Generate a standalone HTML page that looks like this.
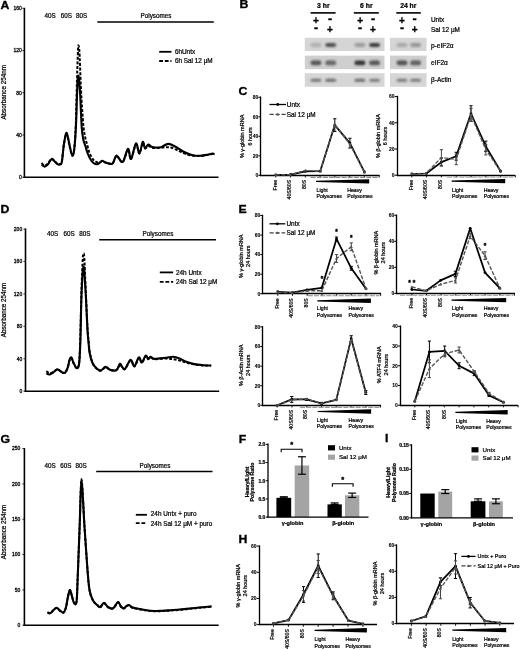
<!DOCTYPE html>
<html><head><meta charset="utf-8"><title>Figure</title>
<style>
html,body{margin:0;padding:0;background:#fff;}
body{width:520px;height:650px;overflow:hidden;}
svg{display:block;font-family:"Liberation Sans", Arial, sans-serif;}
</style></head>
<body>
<svg width="520" height="650" viewBox="0 0 520 650">
<defs><filter id="blur" x="-50%" y="-50%" width="200%" height="200%"><feGaussianBlur stdDeviation="1.0"/></filter></defs>
<rect width="520" height="650" fill="#fff"/>
<text transform="translate(0.60 8.60) scale(1.18 1)" font-size="10.4" font-weight="bold" fill="#000" stroke="#000" stroke-width="0.3">A</text>
<line x1="24.40" y1="7.80" x2="24.40" y2="177.90" stroke="#000" stroke-width="1.6" stroke-linecap="butt"/>
<line x1="23.60" y1="177.30" x2="218.50" y2="177.30" stroke="#000" stroke-width="1.5" stroke-linecap="butt"/>
<line x1="22.40" y1="177.30" x2="24.40" y2="177.30" stroke="#000" stroke-width="0.8" stroke-linecap="butt"/>
<text x="21.80" y="179.10" font-size="5" text-anchor="end" fill="#000" stroke="#000" stroke-width="0.28">0</text>
<line x1="22.40" y1="135.05" x2="24.40" y2="135.05" stroke="#000" stroke-width="0.8" stroke-linecap="butt"/>
<text x="21.80" y="136.85" font-size="5" text-anchor="end" fill="#000" stroke="#000" stroke-width="0.28">40</text>
<line x1="22.40" y1="92.80" x2="24.40" y2="92.80" stroke="#000" stroke-width="0.8" stroke-linecap="butt"/>
<text x="21.80" y="94.60" font-size="5" text-anchor="end" fill="#000" stroke="#000" stroke-width="0.28">80</text>
<line x1="22.40" y1="50.55" x2="24.40" y2="50.55" stroke="#000" stroke-width="0.8" stroke-linecap="butt"/>
<text x="21.80" y="52.35" font-size="5" text-anchor="end" fill="#000" stroke="#000" stroke-width="0.28">120</text>
<line x1="22.40" y1="8.30" x2="24.40" y2="8.30" stroke="#000" stroke-width="0.8" stroke-linecap="butt"/>
<text x="21.80" y="10.10" font-size="5" text-anchor="end" fill="#000" stroke="#000" stroke-width="0.28">160</text>
<text x="5.60" y="92.30" font-size="6.3" text-anchor="middle" transform="rotate(-90 5.60 92.30)" fill="#000" stroke="#000" stroke-width="0.22">Absorbance 254nm</text>
<text x="44.60" y="18.20" font-size="6.3" text-anchor="start" fill="#000" stroke="#000" stroke-width="0.22">40S</text>
<text x="60.80" y="18.20" font-size="6.3" text-anchor="start" fill="#000" stroke="#000" stroke-width="0.22">60S</text>
<text x="76.00" y="18.20" font-size="6.3" text-anchor="start" fill="#000" stroke="#000" stroke-width="0.22">80S</text>
<text x="140.60" y="18.20" font-size="6.3" text-anchor="start" fill="#000" stroke="#000" stroke-width="0.22">Polysomes</text>
<line x1="97.30" y1="22.00" x2="213.80" y2="22.00" stroke="#000" stroke-width="1.5" stroke-linecap="butt"/>
<line x1="159.20" y1="51.80" x2="171.50" y2="51.80" stroke="#000" stroke-width="1.8" stroke-linecap="butt"/>
<line x1="159.20" y1="61.00" x2="171.50" y2="61.00" stroke="#000" stroke-width="1.8" stroke-dasharray="3.8,1.8" stroke-linecap="butt"/>
<text x="174.90" y="53.90" font-size="6.4" text-anchor="start" fill="#000" stroke="#000" stroke-width="0.22">6hUntx</text>
<text x="174.90" y="63.20" font-size="6.4" text-anchor="start" fill="#000" stroke="#000" stroke-width="0.22">6h Sal 12 μM</text>
<path d="M41.60,164.60 C42.08,164.93 43.48,166.60 44.50,166.60 C45.52,166.60 46.57,165.82 47.70,164.60 C48.83,163.38 50.22,159.90 51.30,159.30 C52.38,158.70 53.25,160.25 54.20,161.00 C55.15,161.75 56.07,163.20 57.00,163.80 C57.93,164.40 59.00,164.87 59.80,164.60 C60.60,164.33 61.13,165.43 61.80,162.20 C62.47,158.97 63.08,150.05 63.80,145.20 C64.52,140.35 65.42,134.45 66.10,133.10 C66.78,131.75 67.27,134.82 67.90,137.10 C68.53,139.38 69.17,143.70 69.90,146.80 C70.63,149.90 71.57,155.30 72.30,155.70 C73.03,156.10 73.68,154.32 74.30,149.20 C74.92,144.08 75.55,134.03 76.00,125.00 C76.45,115.97 76.67,103.00 77.00,95.00 C77.33,87.00 77.67,79.67 78.00,77.00 C78.33,74.33 78.63,76.00 79.00,79.00 C79.37,82.00 79.75,87.00 80.20,95.00 C80.65,103.00 81.18,119.58 81.70,127.00 C82.22,134.42 82.68,136.33 83.30,139.50 C83.92,142.67 84.70,143.75 85.40,146.00 C86.10,148.25 86.68,150.83 87.50,153.00 C88.32,155.17 89.30,157.33 90.30,159.00 C91.30,160.67 92.38,162.12 93.50,163.00 C94.62,163.88 95.92,164.38 97.00,164.30 C98.08,164.22 99.10,163.10 100.00,162.50 C100.90,161.90 101.43,160.67 102.40,160.70 C103.37,160.73 104.12,162.22 105.80,162.70 C107.48,163.18 110.72,164.78 112.50,163.60 C114.28,162.42 114.82,155.87 116.50,155.60 C118.18,155.33 120.68,163.13 122.60,162.00 C124.52,160.87 126.60,149.30 128.00,148.80 C129.40,148.30 129.67,159.88 131.00,159.00 C132.33,158.12 134.60,144.42 136.00,143.50 C137.40,142.58 138.27,153.78 139.40,153.50 C140.53,153.22 141.87,142.68 142.80,141.80 C143.73,140.92 144.10,147.75 145.00,148.20 C145.90,148.65 147.12,144.73 148.20,144.50 C149.28,144.27 150.27,146.30 151.50,146.80 C152.73,147.30 154.02,147.43 155.60,147.50 C157.18,147.57 158.90,147.80 161.00,147.20 C163.10,146.60 165.77,143.97 168.20,143.90 C170.63,143.83 173.03,145.48 175.60,146.80 C178.17,148.12 180.92,150.45 183.60,151.80 C186.28,153.15 189.00,154.23 191.70,154.90 C194.40,155.57 197.33,155.80 199.80,155.80 C202.27,155.80 204.37,155.27 206.50,154.90 C208.63,154.53 211.25,153.72 212.60,153.60 C213.95,153.48 214.27,154.10 214.60,154.20" fill="none" stroke="#000" stroke-width="2.1" stroke-linejoin="round"/>
<path d="M41.60,163.00 C42.08,163.42 43.48,165.37 44.50,165.50 C45.52,165.63 46.57,164.92 47.70,163.80 C48.83,162.68 50.22,159.35 51.30,158.80 C52.38,158.25 53.25,159.75 54.20,160.50 C55.15,161.25 56.07,162.72 57.00,163.30 C57.93,163.88 59.00,164.30 59.80,164.00 C60.60,163.70 61.13,164.67 61.80,161.50 C62.47,158.33 63.08,149.58 63.80,145.00 C64.52,140.42 65.42,135.17 66.10,134.00 C66.78,132.83 67.27,135.75 67.90,138.00 C68.53,140.25 69.17,144.58 69.90,147.50 C70.63,150.42 71.57,155.42 72.30,155.50 C73.03,155.58 73.72,153.08 74.30,148.00 C74.88,142.92 75.35,136.33 75.80,125.00 C76.25,113.67 76.63,92.50 77.00,80.00 C77.37,67.50 77.73,55.75 78.00,50.00 C78.27,44.25 78.38,45.50 78.60,45.50 C78.82,45.50 79.07,46.75 79.30,50.00 C79.53,53.25 79.72,58.33 80.00,65.00 C80.28,71.67 80.63,82.50 81.00,90.00 C81.37,97.50 81.78,103.83 82.20,110.00 C82.62,116.17 83.00,122.42 83.50,127.00 C84.00,131.58 84.58,134.50 85.20,137.50 C85.82,140.50 86.48,142.42 87.20,145.00 C87.92,147.58 88.57,150.67 89.50,153.00 C90.43,155.33 91.80,157.58 92.80,159.00 C93.80,160.42 94.63,160.92 95.50,161.50 C96.37,162.08 97.17,162.42 98.00,162.50 C98.83,162.58 99.77,162.25 100.50,162.00 C101.23,161.75 101.52,160.92 102.40,161.00 C103.28,161.08 104.12,162.12 105.80,162.50 C107.48,162.88 110.72,164.38 112.50,163.30 C114.28,162.22 114.82,156.22 116.50,156.00 C118.18,155.78 120.68,163.08 122.60,162.00 C124.52,160.92 126.60,150.00 128.00,149.50 C129.40,149.00 129.67,159.83 131.00,159.00 C132.33,158.17 134.60,145.42 136.00,144.50 C137.40,143.58 138.27,153.75 139.40,153.50 C140.53,153.25 141.87,143.83 142.80,143.00 C143.73,142.17 144.10,148.00 145.00,148.50 C145.90,149.00 147.12,146.17 148.20,146.00 C149.28,145.83 150.27,147.17 151.50,147.50 C152.73,147.83 153.60,148.00 155.60,148.00 C157.60,148.00 161.07,147.58 163.50,147.50 C165.93,147.42 167.95,147.08 170.20,147.50 C172.45,147.92 174.77,149.07 177.00,150.00 C179.23,150.93 181.15,152.18 183.60,153.10 C186.05,154.02 189.00,155.02 191.70,155.50 C194.40,155.98 197.33,156.08 199.80,156.00 C202.27,155.92 204.37,155.33 206.50,155.00 C208.63,154.67 211.25,154.13 212.60,154.00 C213.95,153.87 214.27,154.17 214.60,154.20" fill="none" stroke="#000" stroke-width="2.0" stroke-linejoin="round" stroke-dasharray="3,1.6"/>
<text transform="translate(0.60 212.60) scale(1.18 1)" font-size="10.4" font-weight="bold" fill="#000" stroke="#000" stroke-width="0.3">D</text>
<line x1="25.50" y1="228.50" x2="25.50" y2="391.80" stroke="#000" stroke-width="1.6" stroke-linecap="butt"/>
<line x1="24.70" y1="391.20" x2="219.20" y2="391.20" stroke="#000" stroke-width="1.5" stroke-linecap="butt"/>
<line x1="23.50" y1="391.20" x2="25.50" y2="391.20" stroke="#000" stroke-width="0.8" stroke-linecap="butt"/>
<text x="22.20" y="393.00" font-size="5" text-anchor="end" fill="#000" stroke="#000" stroke-width="0.28">0</text>
<line x1="23.50" y1="358.76" x2="25.50" y2="358.76" stroke="#000" stroke-width="0.8" stroke-linecap="butt"/>
<text x="22.20" y="360.56" font-size="5" text-anchor="end" fill="#000" stroke="#000" stroke-width="0.28">40</text>
<line x1="23.50" y1="326.32" x2="25.50" y2="326.32" stroke="#000" stroke-width="0.8" stroke-linecap="butt"/>
<text x="22.20" y="328.12" font-size="5" text-anchor="end" fill="#000" stroke="#000" stroke-width="0.28">80</text>
<line x1="23.50" y1="293.88" x2="25.50" y2="293.88" stroke="#000" stroke-width="0.8" stroke-linecap="butt"/>
<text x="22.20" y="295.68" font-size="5" text-anchor="end" fill="#000" stroke="#000" stroke-width="0.28">120</text>
<line x1="23.50" y1="261.44" x2="25.50" y2="261.44" stroke="#000" stroke-width="0.8" stroke-linecap="butt"/>
<text x="22.20" y="263.24" font-size="5" text-anchor="end" fill="#000" stroke="#000" stroke-width="0.28">160</text>
<line x1="23.50" y1="229.00" x2="25.50" y2="229.00" stroke="#000" stroke-width="0.8" stroke-linecap="butt"/>
<text x="22.20" y="230.80" font-size="5" text-anchor="end" fill="#000" stroke="#000" stroke-width="0.28">200</text>
<text x="5.60" y="310.00" font-size="6.3" text-anchor="middle" transform="rotate(-90 5.60 310.00)" fill="#000" stroke="#000" stroke-width="0.22">Absorbance 254nm</text>
<text x="47.00" y="236.00" font-size="6.3" text-anchor="start" fill="#000" stroke="#000" stroke-width="0.22">40S</text>
<text x="63.40" y="236.00" font-size="6.3" text-anchor="start" fill="#000" stroke="#000" stroke-width="0.22">60S</text>
<text x="79.20" y="236.00" font-size="6.3" text-anchor="start" fill="#000" stroke="#000" stroke-width="0.22">80S</text>
<text x="142.50" y="236.00" font-size="6.3" text-anchor="start" fill="#000" stroke="#000" stroke-width="0.22">Polysomes</text>
<line x1="99.20" y1="239.70" x2="216.00" y2="239.70" stroke="#000" stroke-width="1.5" stroke-linecap="butt"/>
<line x1="159.80" y1="272.40" x2="173.10" y2="272.40" stroke="#000" stroke-width="1.8" stroke-linecap="butt"/>
<line x1="159.80" y1="281.80" x2="173.10" y2="281.80" stroke="#000" stroke-width="1.8" stroke-dasharray="3.8,1.8" stroke-linecap="butt"/>
<text x="176.00" y="274.60" font-size="6.4" text-anchor="start" fill="#000" stroke="#000" stroke-width="0.22">24h Untx</text>
<text x="176.00" y="284.20" font-size="6.4" text-anchor="start" fill="#000" stroke="#000" stroke-width="0.22">24h Sal 12 μM</text>
<path d="M46.30,373.40 C46.78,373.58 48.13,374.60 49.20,374.50 C50.27,374.40 51.35,373.65 52.70,372.80 C54.05,371.95 55.87,369.58 57.30,369.40 C58.73,369.22 60.05,371.12 61.30,371.70 C62.55,372.28 63.73,373.57 64.80,372.90 C65.87,372.23 66.92,369.85 67.70,367.70 C68.48,365.55 68.88,361.73 69.50,360.00 C70.12,358.27 70.75,356.88 71.40,357.30 C72.05,357.72 72.48,360.67 73.40,362.50 C74.32,364.33 75.93,368.22 76.90,368.30 C77.87,368.38 78.62,367.72 79.20,363.00 C79.78,358.28 80.02,351.33 80.40,340.00 C80.78,328.67 80.98,307.25 81.50,295.00 C82.02,282.75 82.83,267.33 83.50,266.50 C84.17,265.67 84.83,279.42 85.50,290.00 C86.17,300.58 87.00,321.33 87.50,330.00 C88.00,338.67 88.15,338.22 88.50,342.00 C88.85,345.78 88.93,349.20 89.60,352.70 C90.27,356.20 91.35,360.40 92.50,363.00 C93.65,365.60 95.15,367.03 96.50,368.30 C97.85,369.57 99.08,370.83 100.60,370.60 C102.12,370.37 104.13,367.10 105.60,366.90 C107.07,366.70 107.83,368.78 109.40,369.40 C110.97,370.02 113.65,370.70 115.00,370.60 C116.35,370.50 116.67,369.93 117.50,368.80 C118.33,367.67 119.27,364.18 120.00,363.80 C120.73,363.42 121.07,365.67 121.90,366.50 C122.73,367.33 123.55,369.92 125.00,368.80 C126.45,367.68 129.03,360.22 130.60,359.80 C132.17,359.38 133.03,366.68 134.40,366.30 C135.77,365.92 137.55,358.13 138.80,357.50 C140.05,356.87 140.77,362.82 141.90,362.50 C143.03,362.18 144.57,356.22 145.60,355.60 C146.63,354.98 147.27,358.58 148.10,358.80 C148.93,359.02 149.65,356.90 150.60,356.90 C151.55,356.90 152.55,358.53 153.80,358.80 C155.05,359.07 156.03,358.67 158.10,358.50 C160.17,358.33 163.73,358.08 166.20,357.80 C168.67,357.52 170.67,356.68 172.90,356.80 C175.13,356.92 177.37,357.67 179.60,358.50 C181.83,359.33 183.83,360.87 186.30,361.80 C188.77,362.73 191.48,363.53 194.40,364.10 C197.32,364.67 201.00,364.95 203.80,365.20 C206.60,365.45 209.97,365.53 211.20,365.60" fill="none" stroke="#000" stroke-width="2.1" stroke-linejoin="round"/>
<path d="M46.30,371.10 C46.78,371.42 48.13,372.80 49.20,373.00 C50.27,373.20 51.35,372.90 52.70,372.30 C54.05,371.70 55.87,369.50 57.30,369.40 C58.73,369.30 60.05,371.12 61.30,371.70 C62.55,372.28 63.73,373.57 64.80,372.90 C65.87,372.23 66.92,369.77 67.70,367.70 C68.48,365.63 68.88,362.12 69.50,360.50 C70.12,358.88 70.75,357.58 71.40,358.00 C72.05,358.42 72.48,361.28 73.40,363.00 C74.32,364.72 75.93,368.47 76.90,368.30 C77.87,368.13 78.62,367.55 79.20,362.00 C79.78,356.45 80.02,347.00 80.40,335.00 C80.78,323.00 81.10,302.83 81.50,290.00 C81.90,277.17 82.47,264.08 82.80,258.00 C83.13,251.92 83.25,253.50 83.50,253.50 C83.75,253.50 83.97,252.75 84.30,258.00 C84.63,263.25 84.97,273.33 85.50,285.00 C86.03,296.67 86.97,318.50 87.50,328.00 C88.03,337.50 88.30,337.83 88.70,342.00 C89.10,346.17 89.22,349.42 89.90,353.00 C90.58,356.58 91.70,360.92 92.80,363.50 C93.90,366.08 95.20,367.32 96.50,368.50 C97.80,369.68 99.08,370.82 100.60,370.60 C102.12,370.38 104.13,367.37 105.60,367.20 C107.07,367.03 107.83,369.03 109.40,369.60 C110.97,370.17 113.65,370.70 115.00,370.60 C116.35,370.50 116.67,370.07 117.50,369.00 C118.33,367.93 119.27,364.57 120.00,364.20 C120.73,363.83 121.07,366.00 121.90,366.80 C122.73,367.60 123.55,370.08 125.00,369.00 C126.45,367.92 129.03,360.72 130.60,360.30 C132.17,359.88 133.03,366.88 134.40,366.50 C135.77,366.12 137.55,358.62 138.80,358.00 C140.05,357.38 140.77,363.08 141.90,362.80 C143.03,362.52 144.57,356.90 145.60,356.30 C146.63,355.70 147.27,359.00 148.10,359.20 C148.93,359.40 149.65,357.50 150.60,357.50 C151.55,357.50 152.55,358.95 153.80,359.20 C155.05,359.45 156.03,359.12 158.10,359.00 C160.17,358.88 163.73,358.48 166.20,358.50 C168.67,358.52 170.67,358.77 172.90,359.10 C175.13,359.43 177.37,359.93 179.60,360.50 C181.83,361.07 183.83,361.83 186.30,362.50 C188.77,363.17 191.48,364.02 194.40,364.50 C197.32,364.98 201.00,365.22 203.80,365.40 C206.60,365.58 209.97,365.57 211.20,365.60" fill="none" stroke="#000" stroke-width="2.0" stroke-linejoin="round" stroke-dasharray="3,1.6"/>
<text transform="translate(0.60 442.60) scale(1.18 1)" font-size="10.4" font-weight="bold" fill="#000" stroke="#000" stroke-width="0.3">G</text>
<line x1="24.40" y1="448.10" x2="24.40" y2="625.80" stroke="#000" stroke-width="1.6" stroke-linecap="butt"/>
<line x1="23.60" y1="625.20" x2="218.70" y2="625.20" stroke="#000" stroke-width="1.5" stroke-linecap="butt"/>
<line x1="22.40" y1="625.20" x2="24.40" y2="625.20" stroke="#000" stroke-width="0.8" stroke-linecap="butt"/>
<text x="20.40" y="627.00" font-size="5" text-anchor="end" fill="#000" stroke="#000" stroke-width="0.28">0</text>
<line x1="22.40" y1="589.88" x2="24.40" y2="589.88" stroke="#000" stroke-width="0.8" stroke-linecap="butt"/>
<text x="20.40" y="591.68" font-size="5" text-anchor="end" fill="#000" stroke="#000" stroke-width="0.28">50</text>
<line x1="22.40" y1="554.56" x2="24.40" y2="554.56" stroke="#000" stroke-width="0.8" stroke-linecap="butt"/>
<text x="20.40" y="556.36" font-size="5" text-anchor="end" fill="#000" stroke="#000" stroke-width="0.28">100</text>
<line x1="22.40" y1="519.24" x2="24.40" y2="519.24" stroke="#000" stroke-width="0.8" stroke-linecap="butt"/>
<text x="20.40" y="521.04" font-size="5" text-anchor="end" fill="#000" stroke="#000" stroke-width="0.28">150</text>
<line x1="22.40" y1="483.92" x2="24.40" y2="483.92" stroke="#000" stroke-width="0.8" stroke-linecap="butt"/>
<text x="20.40" y="485.72" font-size="5" text-anchor="end" fill="#000" stroke="#000" stroke-width="0.28">200</text>
<line x1="22.40" y1="448.60" x2="24.40" y2="448.60" stroke="#000" stroke-width="0.8" stroke-linecap="butt"/>
<text x="20.40" y="450.40" font-size="5" text-anchor="end" fill="#000" stroke="#000" stroke-width="0.28">250</text>
<text x="5.60" y="532.00" font-size="6.3" text-anchor="middle" transform="rotate(-90 5.60 532.00)" fill="#000" stroke="#000" stroke-width="0.22">Absorbance 254nm</text>
<text x="44.40" y="468.00" font-size="6.3" text-anchor="start" fill="#000" stroke="#000" stroke-width="0.22">40S</text>
<text x="60.20" y="468.00" font-size="6.3" text-anchor="start" fill="#000" stroke="#000" stroke-width="0.22">60S</text>
<text x="75.40" y="468.00" font-size="6.3" text-anchor="start" fill="#000" stroke="#000" stroke-width="0.22">80S</text>
<text x="139.60" y="468.00" font-size="6.3" text-anchor="start" fill="#000" stroke="#000" stroke-width="0.22">Polysomes</text>
<line x1="96.20" y1="471.60" x2="212.50" y2="471.60" stroke="#000" stroke-width="1.5" stroke-linecap="butt"/>
<line x1="135.80" y1="514.80" x2="146.90" y2="514.80" stroke="#000" stroke-width="1.8" stroke-linecap="butt"/>
<line x1="135.80" y1="523.10" x2="146.90" y2="523.10" stroke="#000" stroke-width="1.8" stroke-dasharray="3.8,1.8" stroke-linecap="butt"/>
<text x="150.80" y="516.30" font-size="6.4" text-anchor="start" fill="#000" stroke="#000" stroke-width="0.22">24h Untx + puro</text>
<text x="150.80" y="526.30" font-size="6.4" text-anchor="start" fill="#000" stroke="#000" stroke-width="0.22">24h Sal 12 μM + puro</text>
<path d="M47.50,612.50 C47.98,612.60 49.43,613.48 50.40,613.10 C51.37,612.72 52.25,611.07 53.30,610.20 C54.35,609.33 55.55,607.80 56.70,607.90 C57.85,608.00 59.05,610.03 60.20,610.80 C61.35,611.57 62.63,613.08 63.60,612.50 C64.57,611.92 65.32,609.70 66.00,607.30 C66.68,604.90 67.07,600.98 67.70,598.10 C68.33,595.22 69.13,590.48 69.80,590.00 C70.47,589.52 71.10,593.28 71.70,595.20 C72.30,597.12 72.82,599.97 73.40,601.50 C73.98,603.03 74.65,604.58 75.20,604.40 C75.75,604.22 76.30,604.47 76.70,600.40 C77.10,596.33 77.10,592.57 77.60,580.00 C78.10,567.43 79.05,541.78 79.70,525.00 C80.35,508.22 80.72,479.30 81.50,479.30 C82.28,479.30 83.40,509.88 84.40,525.00 C85.40,540.12 86.63,559.08 87.50,570.00 C88.37,580.92 88.68,585.43 89.60,590.50 C90.52,595.57 91.65,597.88 93.00,600.40 C94.35,602.92 96.48,604.50 97.70,605.60 C98.92,606.70 99.25,607.45 100.30,607.00 C101.35,606.55 102.72,602.90 104.00,602.90 C105.28,602.90 106.52,606.10 108.00,607.00 C109.48,607.90 111.57,608.72 112.90,608.30 C114.23,607.88 115.10,605.55 116.00,604.50 C116.90,603.45 117.47,601.67 118.30,602.00 C119.13,602.33 120.10,605.45 121.00,606.50 C121.90,607.55 122.78,608.38 123.70,608.30 C124.62,608.22 125.62,606.55 126.50,606.00 C127.38,605.45 128.08,604.78 129.00,605.00 C129.92,605.22 130.87,606.75 132.00,607.30 C133.13,607.85 133.63,607.85 135.80,608.30 C137.97,608.75 141.87,609.55 145.00,610.00 C148.13,610.45 151.77,610.87 154.60,611.00 C157.43,611.13 159.30,610.93 162.00,610.80 C164.70,610.67 167.80,610.42 170.80,610.20 C173.80,609.98 176.42,609.82 180.00,609.50 C183.58,609.18 188.63,608.68 192.30,608.30 C195.97,607.92 198.77,607.52 202.00,607.20 C205.23,606.88 210.08,606.53 211.70,606.40" fill="none" stroke="#000" stroke-width="2.1" stroke-linejoin="round"/>
<path d="M47.50,612.50 C47.98,612.60 49.43,613.48 50.40,613.10 C51.37,612.72 52.25,611.07 53.30,610.20 C54.35,609.33 55.55,607.80 56.70,607.90 C57.85,608.00 59.05,610.03 60.20,610.80 C61.35,611.57 62.63,613.08 63.60,612.50 C64.57,611.92 65.32,609.70 66.00,607.30 C66.68,604.90 67.07,600.98 67.70,598.10 C68.33,595.22 69.13,590.48 69.80,590.00 C70.47,589.52 71.10,593.28 71.70,595.20 C72.30,597.12 72.82,599.97 73.40,601.50 C73.98,603.03 74.65,604.58 75.20,604.40 C75.75,604.22 76.30,604.47 76.70,600.40 C77.10,596.33 77.10,592.57 77.60,580.00 C78.10,567.43 79.05,541.78 79.70,525.00 C80.35,508.22 80.72,479.30 81.50,479.30 C82.28,479.30 83.40,509.88 84.40,525.00 C85.40,540.12 86.63,559.08 87.50,570.00 C88.37,580.92 88.68,585.43 89.60,590.50 C90.52,595.57 91.65,597.88 93.00,600.40 C94.35,602.92 96.48,604.45 97.70,605.60 C98.92,606.75 99.25,607.70 100.30,607.30 C101.35,606.90 102.72,603.20 104.00,603.20 C105.28,603.20 106.52,606.40 108.00,607.30 C109.48,608.20 111.57,609.02 112.90,608.60 C114.23,608.18 115.10,605.85 116.00,604.80 C116.90,603.75 117.47,601.97 118.30,602.30 C119.13,602.63 120.10,605.75 121.00,606.80 C121.90,607.85 122.78,608.68 123.70,608.60 C124.62,608.52 125.62,606.85 126.50,606.30 C127.38,605.75 128.08,605.08 129.00,605.30 C129.92,605.52 130.87,607.05 132.00,607.60 C133.13,608.15 133.63,608.15 135.80,608.60 C137.97,609.05 141.87,609.85 145.00,610.30 C148.13,610.75 151.77,611.17 154.60,611.30 C157.43,611.43 159.30,611.23 162.00,611.10 C164.70,610.97 167.80,610.72 170.80,610.50 C173.80,610.28 176.42,610.12 180.00,609.80 C183.58,609.48 188.63,608.98 192.30,608.60 C195.97,608.22 198.77,607.82 202.00,607.50 C205.23,607.18 210.08,606.83 211.70,606.70" fill="none" stroke="#000" stroke-width="2.0" stroke-linejoin="round" stroke-dasharray="3,1.6"/>
<text transform="translate(238.60 94.60) scale(1.18 1)" font-size="10.4" font-weight="bold" fill="#000" stroke="#000" stroke-width="0.3">C</text>
<line x1="260.50" y1="96.50" x2="260.50" y2="176.10" stroke="#000" stroke-width="1.35" stroke-linecap="butt"/>
<line x1="259.90" y1="175.50" x2="379.60" y2="175.50" stroke="#000" stroke-width="1.35" stroke-linecap="butt"/>
<line x1="258.40" y1="175.30" x2="260.80" y2="175.30" stroke="#000" stroke-width="1.0" stroke-linecap="butt"/>
<text x="258.30" y="177.10" font-size="5" text-anchor="end" font-weight="bold" fill="#000" stroke="#000" stroke-width="0.1">0</text>
<line x1="258.40" y1="155.80" x2="260.80" y2="155.80" stroke="#000" stroke-width="1.0" stroke-linecap="butt"/>
<text x="258.30" y="157.60" font-size="5" text-anchor="end" font-weight="bold" fill="#000" stroke="#000" stroke-width="0.1">20</text>
<line x1="258.40" y1="136.30" x2="260.80" y2="136.30" stroke="#000" stroke-width="1.0" stroke-linecap="butt"/>
<text x="258.30" y="138.10" font-size="5" text-anchor="end" font-weight="bold" fill="#000" stroke="#000" stroke-width="0.1">40</text>
<line x1="258.40" y1="116.80" x2="260.80" y2="116.80" stroke="#000" stroke-width="1.0" stroke-linecap="butt"/>
<text x="258.30" y="118.60" font-size="5" text-anchor="end" font-weight="bold" fill="#000" stroke="#000" stroke-width="0.1">60</text>
<line x1="258.40" y1="97.30" x2="260.80" y2="97.30" stroke="#000" stroke-width="1.0" stroke-linecap="butt"/>
<text x="258.30" y="99.10" font-size="5" text-anchor="end" font-weight="bold" fill="#000" stroke="#000" stroke-width="0.1">80</text>
<line x1="275.80" y1="175.30" x2="275.80" y2="177.50" stroke="#000" stroke-width="0.9" stroke-linecap="butt"/>
<line x1="290.57" y1="175.30" x2="290.57" y2="177.50" stroke="#000" stroke-width="0.9" stroke-linecap="butt"/>
<line x1="305.33" y1="175.30" x2="305.33" y2="177.50" stroke="#000" stroke-width="0.9" stroke-linecap="butt"/>
<line x1="320.10" y1="175.30" x2="320.10" y2="177.50" stroke="#000" stroke-width="0.9" stroke-linecap="butt"/>
<line x1="334.87" y1="175.30" x2="334.87" y2="177.50" stroke="#000" stroke-width="0.9" stroke-linecap="butt"/>
<line x1="349.63" y1="175.30" x2="349.63" y2="177.50" stroke="#000" stroke-width="0.9" stroke-linecap="butt"/>
<line x1="364.40" y1="175.30" x2="364.40" y2="177.50" stroke="#000" stroke-width="0.9" stroke-linecap="butt"/>
<line x1="379.17" y1="175.30" x2="379.17" y2="177.50" stroke="#000" stroke-width="0.9" stroke-linecap="butt"/>
<text x="276.70" y="179.90" font-size="5.1" text-anchor="end" transform="rotate(-90 276.70 179.90)" fill="#000" stroke="#000" stroke-width="0.22">Free</text>
<text x="291.50" y="179.90" font-size="5.1" text-anchor="end" transform="rotate(-90 291.50 179.90)" fill="#000" stroke="#000" stroke-width="0.22">40S/60S</text>
<text x="306.30" y="179.90" font-size="5.1" text-anchor="end" transform="rotate(-90 306.30 179.90)" fill="#000" stroke="#000" stroke-width="0.22">80S</text>
<polygon points="316.00,180.80 369.20,179.20 369.20,183.60 316.00,182.00" fill="#000"/>
<line x1="310.50" y1="177.40" x2="378.10" y2="177.40" stroke="#8a8a8a" stroke-width="1.1" stroke-dasharray="5,1.2" stroke-linecap="butt"/>
<text x="316.50" y="191.80" font-size="5.2" text-anchor="start" fill="#000" stroke="#000" stroke-width="0.22">Light</text>
<text x="316.50" y="198.40" font-size="5.2" text-anchor="start" fill="#000" stroke="#000" stroke-width="0.22">Polysomes</text>
<text x="347.20" y="191.80" font-size="5.2" text-anchor="start" fill="#000" stroke="#000" stroke-width="0.22">Heavy</text>
<text x="347.20" y="198.40" font-size="5.2" text-anchor="start" fill="#000" stroke="#000" stroke-width="0.22">Polysomes</text>
<text x="243.80" y="136.40" font-size="5.5" text-anchor="middle" transform="rotate(-90 243.80 136.40)" fill="#000" stroke="#000" stroke-width="0.22">% γ-globin mRNA</text>
<text x="251.60" y="136.40" font-size="5.5" text-anchor="middle" transform="rotate(-90 251.60 136.40)" fill="#000" stroke="#000" stroke-width="0.22">6 hours</text>
<line x1="334.80" y1="118.75" x2="334.80" y2="131.43" stroke="#000" stroke-width="1.0" stroke-linecap="butt"/>
<line x1="333.20" y1="118.75" x2="336.40" y2="118.75" stroke="#000" stroke-width="1.0" stroke-linecap="butt"/>
<line x1="333.20" y1="131.43" x2="336.40" y2="131.43" stroke="#000" stroke-width="1.0" stroke-linecap="butt"/>
<line x1="349.90" y1="138.25" x2="349.90" y2="148.00" stroke="#000" stroke-width="1.0" stroke-linecap="butt"/>
<line x1="348.30" y1="138.25" x2="351.50" y2="138.25" stroke="#000" stroke-width="1.0" stroke-linecap="butt"/>
<line x1="348.30" y1="148.00" x2="351.50" y2="148.00" stroke="#000" stroke-width="1.0" stroke-linecap="butt"/>
<polyline points="275.80,174.81 290.60,174.52 305.40,171.40 320.20,171.21 334.80,125.09 349.90,143.12 364.40,171.89" fill="none" stroke="#000" stroke-width="1.75" stroke-linejoin="round"/>
<circle cx="275.80" cy="174.81" r="1.4" fill="#000"/>
<circle cx="290.60" cy="174.52" r="1.4" fill="#000"/>
<circle cx="305.40" cy="171.40" r="1.4" fill="#000"/>
<circle cx="320.20" cy="171.21" r="1.4" fill="#000"/>
<circle cx="334.80" cy="125.09" r="1.4" fill="#000"/>
<circle cx="349.90" cy="143.12" r="1.4" fill="#000"/>
<circle cx="364.40" cy="171.89" r="1.4" fill="#000"/>
<polyline points="275.80,174.91 290.60,174.62 305.40,170.43 320.20,171.40 334.80,124.60 349.90,144.10 364.40,172.18" fill="none" stroke="#555" stroke-width="1.4" stroke-linejoin="round" stroke-dasharray="4,1.6"/>
<polygon points="274.30,176.11 277.30,176.11 275.80,173.41" fill="#555"/>
<polygon points="289.10,175.82 292.10,175.82 290.60,173.12" fill="#555"/>
<polygon points="303.90,171.62 306.90,171.62 305.40,168.93" fill="#555"/>
<polygon points="318.70,172.60 321.70,172.60 320.20,169.90" fill="#555"/>
<polygon points="333.30,125.80 336.30,125.80 334.80,123.10" fill="#555"/>
<polygon points="348.40,145.30 351.40,145.30 349.90,142.60" fill="#555"/>
<polygon points="362.90,173.38 365.90,173.38 364.40,170.68" fill="#555"/>
<line x1="269.50" y1="104.50" x2="286.00" y2="104.50" stroke="#000" stroke-width="1.3" stroke-linecap="butt"/>
<circle cx="277.75" cy="104.50" r="1.4" fill="#000"/>
<line x1="269.50" y1="114.30" x2="286.00" y2="114.30" stroke="#444" stroke-width="1.3" stroke-dasharray="4.2,1.8" stroke-linecap="butt"/>
<polygon points="276.25,115.50 279.25,115.50 277.75,112.80" fill="#555"/>
<text x="286.80" y="106.80" font-size="6.4" text-anchor="start" fill="#000" stroke="#000" stroke-width="0.22">Untx</text>
<text x="286.80" y="116.60" font-size="6.4" text-anchor="start" fill="#000" stroke="#000" stroke-width="0.22">Sal 12 μM</text>
<line x1="397.50" y1="95.80" x2="397.50" y2="176.10" stroke="#000" stroke-width="1.35" stroke-linecap="butt"/>
<line x1="396.90" y1="175.50" x2="515.00" y2="175.50" stroke="#000" stroke-width="1.35" stroke-linecap="butt"/>
<line x1="394.60" y1="175.20" x2="397.00" y2="175.20" stroke="#000" stroke-width="1.0" stroke-linecap="butt"/>
<text x="394.50" y="177.00" font-size="5" text-anchor="end" font-weight="bold" fill="#000" stroke="#000" stroke-width="0.1">0</text>
<line x1="394.60" y1="149.00" x2="397.00" y2="149.00" stroke="#000" stroke-width="1.0" stroke-linecap="butt"/>
<text x="394.50" y="150.80" font-size="5" text-anchor="end" font-weight="bold" fill="#000" stroke="#000" stroke-width="0.1">20</text>
<line x1="394.60" y1="122.80" x2="397.00" y2="122.80" stroke="#000" stroke-width="1.0" stroke-linecap="butt"/>
<text x="394.50" y="124.60" font-size="5" text-anchor="end" font-weight="bold" fill="#000" stroke="#000" stroke-width="0.1">40</text>
<line x1="394.60" y1="96.60" x2="397.00" y2="96.60" stroke="#000" stroke-width="1.0" stroke-linecap="butt"/>
<text x="394.50" y="98.40" font-size="5" text-anchor="end" font-weight="bold" fill="#000" stroke="#000" stroke-width="0.1">60</text>
<line x1="411.80" y1="175.20" x2="411.80" y2="177.40" stroke="#000" stroke-width="0.9" stroke-linecap="butt"/>
<line x1="426.60" y1="175.20" x2="426.60" y2="177.40" stroke="#000" stroke-width="0.9" stroke-linecap="butt"/>
<line x1="441.40" y1="175.20" x2="441.40" y2="177.40" stroke="#000" stroke-width="0.9" stroke-linecap="butt"/>
<line x1="456.20" y1="175.20" x2="456.20" y2="177.40" stroke="#000" stroke-width="0.9" stroke-linecap="butt"/>
<line x1="471.00" y1="175.20" x2="471.00" y2="177.40" stroke="#000" stroke-width="0.9" stroke-linecap="butt"/>
<line x1="485.80" y1="175.20" x2="485.80" y2="177.40" stroke="#000" stroke-width="0.9" stroke-linecap="butt"/>
<line x1="500.60" y1="175.20" x2="500.60" y2="177.40" stroke="#000" stroke-width="0.9" stroke-linecap="butt"/>
<line x1="515.40" y1="175.20" x2="515.40" y2="177.40" stroke="#000" stroke-width="0.9" stroke-linecap="butt"/>
<text x="412.70" y="179.80" font-size="5.1" text-anchor="end" transform="rotate(-90 412.70 179.80)" fill="#000" stroke="#000" stroke-width="0.22">Free</text>
<text x="427.20" y="179.80" font-size="5.1" text-anchor="end" transform="rotate(-90 427.20 179.80)" fill="#000" stroke="#000" stroke-width="0.22">40S/60S</text>
<text x="442.30" y="179.80" font-size="5.1" text-anchor="end" transform="rotate(-90 442.30 179.80)" fill="#000" stroke="#000" stroke-width="0.22">80S</text>
<polygon points="451.60,180.50 505.20,178.90 505.20,183.30 451.60,181.70" fill="#000"/>
<line x1="447.00" y1="177.30" x2="513.50" y2="177.30" stroke="#aaa" stroke-width="1.1" stroke-dasharray="5,1.2" stroke-linecap="butt"/>
<text x="452.00" y="191.80" font-size="5.2" text-anchor="start" fill="#000" stroke="#000" stroke-width="0.22">Light</text>
<text x="452.00" y="198.40" font-size="5.2" text-anchor="start" fill="#000" stroke="#000" stroke-width="0.22">Polysomes</text>
<text x="483.70" y="191.80" font-size="5.2" text-anchor="start" fill="#000" stroke="#000" stroke-width="0.22">Heavy</text>
<text x="483.70" y="198.40" font-size="5.2" text-anchor="start" fill="#000" stroke="#000" stroke-width="0.22">Polysomes</text>
<text x="379.60" y="136.00" font-size="5.5" text-anchor="middle" transform="rotate(-90 379.60 136.00)" fill="#000" stroke="#000" stroke-width="0.22">% β-globin mRNA</text>
<text x="386.60" y="136.00" font-size="5.5" text-anchor="middle" transform="rotate(-90 386.60 136.00)" fill="#000" stroke="#000" stroke-width="0.22">6 hours</text>
<line x1="441.40" y1="158.17" x2="441.40" y2="166.03" stroke="#000" stroke-width="1.0" stroke-linecap="butt"/>
<line x1="439.80" y1="158.17" x2="443.00" y2="158.17" stroke="#000" stroke-width="1.0" stroke-linecap="butt"/>
<line x1="439.80" y1="166.03" x2="443.00" y2="166.03" stroke="#000" stroke-width="1.0" stroke-linecap="butt"/>
<line x1="456.20" y1="152.27" x2="456.20" y2="160.13" stroke="#000" stroke-width="1.0" stroke-linecap="butt"/>
<line x1="454.60" y1="152.27" x2="457.80" y2="152.27" stroke="#000" stroke-width="1.0" stroke-linecap="butt"/>
<line x1="454.60" y1="160.13" x2="457.80" y2="160.13" stroke="#000" stroke-width="1.0" stroke-linecap="butt"/>
<line x1="471.00" y1="105.77" x2="471.00" y2="121.49" stroke="#000" stroke-width="1.0" stroke-linecap="butt"/>
<line x1="469.40" y1="105.77" x2="472.60" y2="105.77" stroke="#000" stroke-width="1.0" stroke-linecap="butt"/>
<line x1="469.40" y1="121.49" x2="472.60" y2="121.49" stroke="#000" stroke-width="1.0" stroke-linecap="butt"/>
<line x1="485.80" y1="141.14" x2="485.80" y2="151.62" stroke="#000" stroke-width="1.0" stroke-linecap="butt"/>
<line x1="484.20" y1="141.14" x2="487.40" y2="141.14" stroke="#000" stroke-width="1.0" stroke-linecap="butt"/>
<line x1="484.20" y1="151.62" x2="487.40" y2="151.62" stroke="#000" stroke-width="1.0" stroke-linecap="butt"/>
<polyline points="411.80,173.89 426.30,173.50 441.40,162.10 456.20,156.20 471.00,113.63 485.80,146.38 500.60,171.27" fill="none" stroke="#000" stroke-width="1.75" stroke-linejoin="round"/>
<circle cx="411.80" cy="173.89" r="1.4" fill="#000"/>
<circle cx="426.30" cy="173.50" r="1.4" fill="#000"/>
<circle cx="441.40" cy="162.10" r="1.4" fill="#000"/>
<circle cx="456.20" cy="156.20" r="1.4" fill="#000"/>
<circle cx="471.00" cy="113.63" r="1.4" fill="#000"/>
<circle cx="485.80" cy="146.38" r="1.4" fill="#000"/>
<circle cx="500.60" cy="171.27" r="1.4" fill="#000"/>
<line x1="441.40" y1="149.66" x2="441.40" y2="165.38" stroke="#444" stroke-width="1.0" stroke-linecap="butt"/>
<line x1="439.80" y1="149.66" x2="443.00" y2="149.66" stroke="#444" stroke-width="1.0" stroke-linecap="butt"/>
<line x1="439.80" y1="165.38" x2="443.00" y2="165.38" stroke="#444" stroke-width="1.0" stroke-linecap="butt"/>
<line x1="456.20" y1="154.24" x2="456.20" y2="164.72" stroke="#444" stroke-width="1.0" stroke-linecap="butt"/>
<line x1="454.60" y1="154.24" x2="457.80" y2="154.24" stroke="#444" stroke-width="1.0" stroke-linecap="butt"/>
<line x1="454.60" y1="164.72" x2="457.80" y2="164.72" stroke="#444" stroke-width="1.0" stroke-linecap="butt"/>
<line x1="471.00" y1="108.39" x2="471.00" y2="121.49" stroke="#444" stroke-width="1.0" stroke-linecap="butt"/>
<line x1="469.40" y1="108.39" x2="472.60" y2="108.39" stroke="#444" stroke-width="1.0" stroke-linecap="butt"/>
<line x1="469.40" y1="121.49" x2="472.60" y2="121.49" stroke="#444" stroke-width="1.0" stroke-linecap="butt"/>
<line x1="485.80" y1="144.41" x2="485.80" y2="154.89" stroke="#444" stroke-width="1.0" stroke-linecap="butt"/>
<line x1="484.20" y1="144.41" x2="487.40" y2="144.41" stroke="#444" stroke-width="1.0" stroke-linecap="butt"/>
<line x1="484.20" y1="154.89" x2="487.40" y2="154.89" stroke="#444" stroke-width="1.0" stroke-linecap="butt"/>
<polyline points="411.80,173.89 426.30,173.23 441.40,157.51 456.20,159.48 471.00,114.94 485.80,149.66 500.60,171.27" fill="none" stroke="#555" stroke-width="1.4" stroke-linejoin="round" stroke-dasharray="4,1.6"/>
<polygon points="410.30,175.09 413.30,175.09 411.80,172.39" fill="#555"/>
<polygon points="424.80,174.43 427.80,174.43 426.30,171.73" fill="#555"/>
<polygon points="439.90,158.71 442.90,158.71 441.40,156.01" fill="#555"/>
<polygon points="454.70,160.68 457.70,160.68 456.20,157.98" fill="#555"/>
<polygon points="469.50,116.14 472.50,116.14 471.00,113.44" fill="#555"/>
<polygon points="484.30,150.85 487.30,150.85 485.80,148.16" fill="#555"/>
<polygon points="499.10,172.47 502.10,172.47 500.60,169.77" fill="#555"/>
<text transform="translate(238.60 212.60) scale(1.18 1)" font-size="10.4" font-weight="bold" fill="#000" stroke="#000" stroke-width="0.3">E</text>
<line x1="262.50" y1="214.70" x2="262.50" y2="294.10" stroke="#000" stroke-width="1.35" stroke-linecap="butt"/>
<line x1="261.90" y1="293.50" x2="381.00" y2="293.50" stroke="#000" stroke-width="1.35" stroke-linecap="butt"/>
<line x1="260.30" y1="293.70" x2="262.70" y2="293.70" stroke="#000" stroke-width="1.0" stroke-linecap="butt"/>
<text x="260.20" y="295.50" font-size="5" text-anchor="end" font-weight="bold" fill="#000" stroke="#000" stroke-width="0.1">0</text>
<line x1="260.30" y1="274.15" x2="262.70" y2="274.15" stroke="#000" stroke-width="1.0" stroke-linecap="butt"/>
<text x="260.20" y="275.95" font-size="5" text-anchor="end" font-weight="bold" fill="#000" stroke="#000" stroke-width="0.1">20</text>
<line x1="260.30" y1="254.60" x2="262.70" y2="254.60" stroke="#000" stroke-width="1.0" stroke-linecap="butt"/>
<text x="260.20" y="256.40" font-size="5" text-anchor="end" font-weight="bold" fill="#000" stroke="#000" stroke-width="0.1">40</text>
<line x1="260.30" y1="235.05" x2="262.70" y2="235.05" stroke="#000" stroke-width="1.0" stroke-linecap="butt"/>
<text x="260.20" y="236.85" font-size="5" text-anchor="end" font-weight="bold" fill="#000" stroke="#000" stroke-width="0.1">60</text>
<line x1="260.30" y1="215.50" x2="262.70" y2="215.50" stroke="#000" stroke-width="1.0" stroke-linecap="butt"/>
<text x="260.20" y="217.30" font-size="5" text-anchor="end" font-weight="bold" fill="#000" stroke="#000" stroke-width="0.1">80</text>
<line x1="277.80" y1="293.70" x2="277.80" y2="295.90" stroke="#000" stroke-width="0.9" stroke-linecap="butt"/>
<line x1="292.50" y1="293.70" x2="292.50" y2="295.90" stroke="#000" stroke-width="0.9" stroke-linecap="butt"/>
<line x1="307.20" y1="293.70" x2="307.20" y2="295.90" stroke="#000" stroke-width="0.9" stroke-linecap="butt"/>
<line x1="321.90" y1="293.70" x2="321.90" y2="295.90" stroke="#000" stroke-width="0.9" stroke-linecap="butt"/>
<line x1="336.60" y1="293.70" x2="336.60" y2="295.90" stroke="#000" stroke-width="0.9" stroke-linecap="butt"/>
<line x1="351.30" y1="293.70" x2="351.30" y2="295.90" stroke="#000" stroke-width="0.9" stroke-linecap="butt"/>
<line x1="366.00" y1="293.70" x2="366.00" y2="295.90" stroke="#000" stroke-width="0.9" stroke-linecap="butt"/>
<line x1="380.70" y1="293.70" x2="380.70" y2="295.90" stroke="#000" stroke-width="0.9" stroke-linecap="butt"/>
<text x="278.70" y="298.30" font-size="5.1" text-anchor="end" transform="rotate(-90 278.70 298.30)" fill="#000" stroke="#000" stroke-width="0.22">Free</text>
<text x="293.30" y="298.30" font-size="5.1" text-anchor="end" transform="rotate(-90 293.30 298.30)" fill="#000" stroke="#000" stroke-width="0.22">40S/60S</text>
<text x="307.90" y="298.30" font-size="5.1" text-anchor="end" transform="rotate(-90 307.90 298.30)" fill="#000" stroke="#000" stroke-width="0.22">80S</text>
<polygon points="317.30,300.20 370.90,298.60 370.90,303.00 317.30,301.40" fill="#000"/>
<line x1="307.80" y1="295.80" x2="379.50" y2="295.80" stroke="#8a8a8a" stroke-width="1.1" stroke-dasharray="5,1.2" stroke-linecap="butt"/>
<text x="316.80" y="310.30" font-size="5.2" text-anchor="start" fill="#000" stroke="#000" stroke-width="0.22">Light</text>
<text x="316.80" y="316.90" font-size="5.2" text-anchor="start" fill="#000" stroke="#000" stroke-width="0.22">Polysomes</text>
<text x="348.50" y="310.30" font-size="5.2" text-anchor="start" fill="#000" stroke="#000" stroke-width="0.22">Heavy</text>
<text x="348.50" y="316.90" font-size="5.2" text-anchor="start" fill="#000" stroke="#000" stroke-width="0.22">Polysomes</text>
<text x="242.60" y="256.20" font-size="5.5" text-anchor="middle" transform="rotate(-90 242.60 256.20)" fill="#000" stroke="#000" stroke-width="0.22">% γ-globin mRNA</text>
<text x="250.20" y="256.20" font-size="5.5" text-anchor="middle" transform="rotate(-90 250.20 256.20)" fill="#000" stroke="#000" stroke-width="0.22">24 hours</text>
<line x1="336.50" y1="237.00" x2="336.50" y2="240.91" stroke="#000" stroke-width="1.0" stroke-linecap="butt"/>
<line x1="334.90" y1="237.00" x2="338.10" y2="237.00" stroke="#000" stroke-width="1.0" stroke-linecap="butt"/>
<line x1="334.90" y1="240.91" x2="338.10" y2="240.91" stroke="#000" stroke-width="1.0" stroke-linecap="butt"/>
<line x1="351.30" y1="266.33" x2="351.30" y2="270.24" stroke="#000" stroke-width="1.0" stroke-linecap="butt"/>
<line x1="349.70" y1="266.33" x2="352.90" y2="266.33" stroke="#000" stroke-width="1.0" stroke-linecap="butt"/>
<line x1="349.70" y1="270.24" x2="352.90" y2="270.24" stroke="#000" stroke-width="1.0" stroke-linecap="butt"/>
<polyline points="277.80,291.75 292.40,292.72 307.00,289.79 321.80,287.83 336.50,238.96 351.30,268.28 366.00,288.81" fill="none" stroke="#000" stroke-width="1.75" stroke-linejoin="round"/>
<circle cx="277.80" cy="291.75" r="1.4" fill="#000"/>
<circle cx="292.40" cy="292.72" r="1.4" fill="#000"/>
<circle cx="307.00" cy="289.79" r="1.4" fill="#000"/>
<circle cx="321.80" cy="287.83" r="1.4" fill="#000"/>
<circle cx="336.50" cy="238.96" r="1.4" fill="#000"/>
<circle cx="351.30" cy="268.28" r="1.4" fill="#000"/>
<circle cx="366.00" cy="288.81" r="1.4" fill="#000"/>
<line x1="336.50" y1="254.60" x2="336.50" y2="262.42" stroke="#444" stroke-width="1.0" stroke-linecap="butt"/>
<line x1="334.90" y1="254.60" x2="338.10" y2="254.60" stroke="#444" stroke-width="1.0" stroke-linecap="butt"/>
<line x1="334.90" y1="262.42" x2="338.10" y2="262.42" stroke="#444" stroke-width="1.0" stroke-linecap="butt"/>
<line x1="351.30" y1="242.87" x2="351.30" y2="250.69" stroke="#444" stroke-width="1.0" stroke-linecap="butt"/>
<line x1="349.70" y1="242.87" x2="352.90" y2="242.87" stroke="#444" stroke-width="1.0" stroke-linecap="butt"/>
<line x1="349.70" y1="250.69" x2="352.90" y2="250.69" stroke="#444" stroke-width="1.0" stroke-linecap="butt"/>
<polyline points="277.80,292.23 292.40,292.92 307.00,290.77 321.80,290.77 336.50,258.51 351.30,246.78 366.00,288.81" fill="none" stroke="#555" stroke-width="1.4" stroke-linejoin="round" stroke-dasharray="4,1.6"/>
<polygon points="276.30,293.43 279.30,293.43 277.80,290.73" fill="#555"/>
<polygon points="290.90,294.12 293.90,294.12 292.40,291.42" fill="#555"/>
<polygon points="305.50,291.97 308.50,291.97 307.00,289.27" fill="#555"/>
<polygon points="320.30,291.97 323.30,291.97 321.80,289.27" fill="#555"/>
<polygon points="335.00,259.71 338.00,259.71 336.50,257.01" fill="#555"/>
<polygon points="349.80,247.98 352.80,247.98 351.30,245.28" fill="#555"/>
<polygon points="364.50,290.01 367.50,290.01 366.00,287.31" fill="#555"/>
<line x1="269.50" y1="223.80" x2="285.20" y2="223.80" stroke="#000" stroke-width="1.3" stroke-linecap="butt"/>
<circle cx="277.35" cy="223.80" r="1.4" fill="#000"/>
<line x1="269.50" y1="232.80" x2="285.20" y2="232.80" stroke="#444" stroke-width="1.3" stroke-dasharray="4.2,1.8" stroke-linecap="butt"/>
<polygon points="275.85,234.00 278.85,234.00 277.35,231.30" fill="#555"/>
<text x="286.50" y="226.10" font-size="6.4" text-anchor="start" fill="#000" stroke="#000" stroke-width="0.22">Untx</text>
<text x="286.50" y="235.10" font-size="6.4" text-anchor="start" fill="#000" stroke="#000" stroke-width="0.22">Sal 12 μM</text>
<text x="322.00" y="280.74" font-size="6.5" text-anchor="middle" font-weight="bold" fill="#000" stroke="#000" stroke-width="0.4">*</text>
<text x="336.50" y="234.31" font-size="6.5" text-anchor="middle" font-weight="bold" fill="#000" stroke="#000" stroke-width="0.4">*</text>
<text x="351.30" y="239.68" font-size="6.5" text-anchor="middle" font-weight="bold" fill="#000" stroke="#000" stroke-width="0.4">*</text>
<line x1="396.50" y1="214.50" x2="396.50" y2="294.10" stroke="#000" stroke-width="1.35" stroke-linecap="butt"/>
<line x1="395.90" y1="293.50" x2="515.00" y2="293.50" stroke="#000" stroke-width="1.35" stroke-linecap="butt"/>
<line x1="394.30" y1="293.40" x2="396.70" y2="293.40" stroke="#000" stroke-width="1.0" stroke-linecap="butt"/>
<text x="394.20" y="295.20" font-size="5" text-anchor="end" font-weight="bold" fill="#000" stroke="#000" stroke-width="0.1">0</text>
<line x1="394.30" y1="267.37" x2="396.70" y2="267.37" stroke="#000" stroke-width="1.0" stroke-linecap="butt"/>
<text x="394.20" y="269.17" font-size="5" text-anchor="end" font-weight="bold" fill="#000" stroke="#000" stroke-width="0.1">20</text>
<line x1="394.30" y1="241.33" x2="396.70" y2="241.33" stroke="#000" stroke-width="1.0" stroke-linecap="butt"/>
<text x="394.20" y="243.13" font-size="5" text-anchor="end" font-weight="bold" fill="#000" stroke="#000" stroke-width="0.1">40</text>
<line x1="394.30" y1="215.30" x2="396.70" y2="215.30" stroke="#000" stroke-width="1.0" stroke-linecap="butt"/>
<text x="394.20" y="217.10" font-size="5" text-anchor="end" font-weight="bold" fill="#000" stroke="#000" stroke-width="0.1">60</text>
<line x1="411.80" y1="293.40" x2="411.80" y2="295.60" stroke="#000" stroke-width="0.9" stroke-linecap="butt"/>
<line x1="426.47" y1="293.40" x2="426.47" y2="295.60" stroke="#000" stroke-width="0.9" stroke-linecap="butt"/>
<line x1="441.13" y1="293.40" x2="441.13" y2="295.60" stroke="#000" stroke-width="0.9" stroke-linecap="butt"/>
<line x1="455.80" y1="293.40" x2="455.80" y2="295.60" stroke="#000" stroke-width="0.9" stroke-linecap="butt"/>
<line x1="470.47" y1="293.40" x2="470.47" y2="295.60" stroke="#000" stroke-width="0.9" stroke-linecap="butt"/>
<line x1="485.13" y1="293.40" x2="485.13" y2="295.60" stroke="#000" stroke-width="0.9" stroke-linecap="butt"/>
<line x1="499.80" y1="293.40" x2="499.80" y2="295.60" stroke="#000" stroke-width="0.9" stroke-linecap="butt"/>
<line x1="514.47" y1="293.40" x2="514.47" y2="295.60" stroke="#000" stroke-width="0.9" stroke-linecap="butt"/>
<text x="412.70" y="298.00" font-size="5.1" text-anchor="end" transform="rotate(-90 412.70 298.00)" fill="#000" stroke="#000" stroke-width="0.22">Free</text>
<text x="427.20" y="298.00" font-size="5.1" text-anchor="end" transform="rotate(-90 427.20 298.00)" fill="#000" stroke="#000" stroke-width="0.22">40S/60S</text>
<text x="441.50" y="298.00" font-size="5.1" text-anchor="end" transform="rotate(-90 441.50 298.00)" fill="#000" stroke="#000" stroke-width="0.22">80S</text>
<polygon points="451.50,299.50 506.20,297.90 506.20,302.30 451.50,300.70" fill="#000"/>
<line x1="400.00" y1="295.50" x2="513.50" y2="295.50" stroke="#aaa" stroke-width="1.1" stroke-dasharray="5,1.2" stroke-linecap="butt"/>
<text x="452.00" y="310.30" font-size="5.2" text-anchor="start" fill="#000" stroke="#000" stroke-width="0.22">Light</text>
<text x="452.00" y="316.90" font-size="5.2" text-anchor="start" fill="#000" stroke="#000" stroke-width="0.22">Polysomes</text>
<text x="483.70" y="310.30" font-size="5.2" text-anchor="start" fill="#000" stroke="#000" stroke-width="0.22">Heavy</text>
<text x="483.70" y="316.90" font-size="5.2" text-anchor="start" fill="#000" stroke="#000" stroke-width="0.22">Polysomes</text>
<text x="378.40" y="252.70" font-size="5.5" text-anchor="middle" transform="rotate(-90 378.40 252.70)" fill="#000" stroke="#000" stroke-width="0.22">% β-globin mRNA</text>
<text x="385.00" y="252.70" font-size="5.5" text-anchor="middle" transform="rotate(-90 385.00 252.70)" fill="#000" stroke="#000" stroke-width="0.22">24 hours</text>
<line x1="455.40" y1="271.27" x2="455.40" y2="276.48" stroke="#000" stroke-width="1.0" stroke-linecap="butt"/>
<line x1="453.80" y1="271.27" x2="457.00" y2="271.27" stroke="#000" stroke-width="1.0" stroke-linecap="butt"/>
<line x1="453.80" y1="276.48" x2="457.00" y2="276.48" stroke="#000" stroke-width="1.0" stroke-linecap="butt"/>
<polyline points="411.80,289.50 426.30,290.80 440.60,280.38 455.40,273.88 470.20,228.32 485.00,272.57 499.80,288.19" fill="none" stroke="#000" stroke-width="1.75" stroke-linejoin="round"/>
<circle cx="411.80" cy="289.50" r="1.4" fill="#000"/>
<circle cx="426.30" cy="290.80" r="1.4" fill="#000"/>
<circle cx="440.60" cy="280.38" r="1.4" fill="#000"/>
<circle cx="455.40" cy="273.88" r="1.4" fill="#000"/>
<circle cx="470.20" cy="228.32" r="1.4" fill="#000"/>
<circle cx="485.00" cy="272.57" r="1.4" fill="#000"/>
<circle cx="499.80" cy="288.19" r="1.4" fill="#000"/>
<line x1="455.40" y1="277.78" x2="455.40" y2="282.99" stroke="#444" stroke-width="1.0" stroke-linecap="butt"/>
<line x1="453.80" y1="277.78" x2="457.00" y2="277.78" stroke="#444" stroke-width="1.0" stroke-linecap="butt"/>
<line x1="453.80" y1="282.99" x2="457.00" y2="282.99" stroke="#444" stroke-width="1.0" stroke-linecap="butt"/>
<line x1="470.20" y1="233.52" x2="470.20" y2="238.73" stroke="#444" stroke-width="1.0" stroke-linecap="butt"/>
<line x1="468.60" y1="233.52" x2="471.80" y2="233.52" stroke="#444" stroke-width="1.0" stroke-linecap="butt"/>
<line x1="468.60" y1="238.73" x2="471.80" y2="238.73" stroke="#444" stroke-width="1.0" stroke-linecap="butt"/>
<line x1="485.00" y1="251.75" x2="485.00" y2="259.56" stroke="#444" stroke-width="1.0" stroke-linecap="butt"/>
<line x1="483.40" y1="251.75" x2="486.60" y2="251.75" stroke="#444" stroke-width="1.0" stroke-linecap="butt"/>
<line x1="483.40" y1="259.56" x2="486.60" y2="259.56" stroke="#444" stroke-width="1.0" stroke-linecap="butt"/>
<polyline points="411.80,286.89 426.30,290.80 440.60,284.29 455.40,280.38 470.20,236.13 485.00,255.65 499.80,288.19" fill="none" stroke="#555" stroke-width="1.4" stroke-linejoin="round" stroke-dasharray="4,1.6"/>
<polygon points="410.30,288.09 413.30,288.09 411.80,285.39" fill="#555"/>
<polygon points="424.80,292.00 427.80,292.00 426.30,289.30" fill="#555"/>
<polygon points="439.10,285.49 442.10,285.49 440.60,282.79" fill="#555"/>
<polygon points="453.90,281.58 456.90,281.58 455.40,278.88" fill="#555"/>
<polygon points="468.70,237.33 471.70,237.33 470.20,234.63" fill="#555"/>
<polygon points="483.50,256.85 486.50,256.85 485.00,254.15" fill="#555"/>
<polygon points="498.30,289.39 501.30,289.39 499.80,286.69" fill="#555"/>
<text x="411.80" y="284.69" font-size="6.5" text-anchor="middle" font-weight="bold" fill="#000" stroke="#000" stroke-width="0.4">* *</text>
<text x="485.00" y="248.24" font-size="6.5" text-anchor="middle" font-weight="bold" fill="#000" stroke="#000" stroke-width="0.4">*</text>
<line x1="262.50" y1="326.10" x2="262.50" y2="406.10" stroke="#000" stroke-width="1.35" stroke-linecap="butt"/>
<line x1="261.90" y1="405.50" x2="381.00" y2="405.50" stroke="#000" stroke-width="1.35" stroke-linecap="butt"/>
<line x1="260.30" y1="405.30" x2="262.70" y2="405.30" stroke="#000" stroke-width="1.0" stroke-linecap="butt"/>
<text x="260.20" y="407.10" font-size="5" text-anchor="end" font-weight="bold" fill="#000" stroke="#000" stroke-width="0.1">0</text>
<line x1="260.30" y1="385.70" x2="262.70" y2="385.70" stroke="#000" stroke-width="1.0" stroke-linecap="butt"/>
<text x="260.20" y="387.50" font-size="5" text-anchor="end" font-weight="bold" fill="#000" stroke="#000" stroke-width="0.1">20</text>
<line x1="260.30" y1="366.10" x2="262.70" y2="366.10" stroke="#000" stroke-width="1.0" stroke-linecap="butt"/>
<text x="260.20" y="367.90" font-size="5" text-anchor="end" font-weight="bold" fill="#000" stroke="#000" stroke-width="0.1">40</text>
<line x1="260.30" y1="346.50" x2="262.70" y2="346.50" stroke="#000" stroke-width="1.0" stroke-linecap="butt"/>
<text x="260.20" y="348.30" font-size="5" text-anchor="end" font-weight="bold" fill="#000" stroke="#000" stroke-width="0.1">60</text>
<line x1="260.30" y1="326.90" x2="262.70" y2="326.90" stroke="#000" stroke-width="1.0" stroke-linecap="butt"/>
<text x="260.20" y="328.70" font-size="5" text-anchor="end" font-weight="bold" fill="#000" stroke="#000" stroke-width="0.1">80</text>
<line x1="277.20" y1="405.30" x2="277.20" y2="407.50" stroke="#000" stroke-width="0.9" stroke-linecap="butt"/>
<line x1="291.97" y1="405.30" x2="291.97" y2="407.50" stroke="#000" stroke-width="0.9" stroke-linecap="butt"/>
<line x1="306.73" y1="405.30" x2="306.73" y2="407.50" stroke="#000" stroke-width="0.9" stroke-linecap="butt"/>
<line x1="321.50" y1="405.30" x2="321.50" y2="407.50" stroke="#000" stroke-width="0.9" stroke-linecap="butt"/>
<line x1="336.27" y1="405.30" x2="336.27" y2="407.50" stroke="#000" stroke-width="0.9" stroke-linecap="butt"/>
<line x1="351.03" y1="405.30" x2="351.03" y2="407.50" stroke="#000" stroke-width="0.9" stroke-linecap="butt"/>
<line x1="365.80" y1="405.30" x2="365.80" y2="407.50" stroke="#000" stroke-width="0.9" stroke-linecap="butt"/>
<line x1="380.57" y1="405.30" x2="380.57" y2="407.50" stroke="#000" stroke-width="0.9" stroke-linecap="butt"/>
<text x="278.10" y="409.90" font-size="5.1" text-anchor="end" transform="rotate(-90 278.10 409.90)" fill="#000" stroke="#000" stroke-width="0.22">Free</text>
<text x="292.70" y="409.90" font-size="5.1" text-anchor="end" transform="rotate(-90 292.70 409.90)" fill="#000" stroke="#000" stroke-width="0.22">40S/60S</text>
<text x="307.30" y="409.90" font-size="5.1" text-anchor="end" transform="rotate(-90 307.30 409.90)" fill="#000" stroke="#000" stroke-width="0.22">80S</text>
<polygon points="317.70,410.90 371.10,409.30 371.10,413.70 317.70,412.10" fill="#000"/>
<line x1="300.00" y1="407.40" x2="379.50" y2="407.40" stroke="#999" stroke-width="1.1" stroke-dasharray="5,1.2" stroke-linecap="butt"/>
<text x="316.80" y="421.80" font-size="5.2" text-anchor="start" fill="#000" stroke="#000" stroke-width="0.22">Light</text>
<text x="316.80" y="428.40" font-size="5.2" text-anchor="start" fill="#000" stroke="#000" stroke-width="0.22">Polysomes</text>
<text x="348.50" y="421.80" font-size="5.2" text-anchor="start" fill="#000" stroke="#000" stroke-width="0.22">Heavy</text>
<text x="348.50" y="428.40" font-size="5.2" text-anchor="start" fill="#000" stroke="#000" stroke-width="0.22">Polysomes</text>
<text x="243.50" y="365.20" font-size="5.5" text-anchor="middle" transform="rotate(-90 243.50 365.20)" fill="#000" stroke="#000" stroke-width="0.22">% β-Actin mRNA</text>
<text x="250.30" y="365.20" font-size="5.5" text-anchor="middle" transform="rotate(-90 250.30 365.20)" fill="#000" stroke="#000" stroke-width="0.22">24 hours</text>
<line x1="291.80" y1="396.48" x2="291.80" y2="402.36" stroke="#000" stroke-width="1.0" stroke-linecap="butt"/>
<line x1="290.20" y1="396.48" x2="293.40" y2="396.48" stroke="#000" stroke-width="1.0" stroke-linecap="butt"/>
<line x1="290.20" y1="402.36" x2="293.40" y2="402.36" stroke="#000" stroke-width="1.0" stroke-linecap="butt"/>
<line x1="306.40" y1="398.44" x2="306.40" y2="400.40" stroke="#000" stroke-width="1.0" stroke-linecap="butt"/>
<line x1="304.80" y1="398.44" x2="308.00" y2="398.44" stroke="#000" stroke-width="1.0" stroke-linecap="butt"/>
<line x1="304.80" y1="400.40" x2="308.00" y2="400.40" stroke="#000" stroke-width="1.0" stroke-linecap="butt"/>
<line x1="321.50" y1="402.36" x2="321.50" y2="404.32" stroke="#000" stroke-width="1.0" stroke-linecap="butt"/>
<line x1="319.90" y1="402.36" x2="323.10" y2="402.36" stroke="#000" stroke-width="1.0" stroke-linecap="butt"/>
<line x1="319.90" y1="404.32" x2="323.10" y2="404.32" stroke="#000" stroke-width="1.0" stroke-linecap="butt"/>
<line x1="351.20" y1="335.72" x2="351.20" y2="341.60" stroke="#000" stroke-width="1.0" stroke-linecap="butt"/>
<line x1="349.60" y1="335.72" x2="352.80" y2="335.72" stroke="#000" stroke-width="1.0" stroke-linecap="butt"/>
<line x1="349.60" y1="341.60" x2="352.80" y2="341.60" stroke="#000" stroke-width="1.0" stroke-linecap="butt"/>
<line x1="365.80" y1="390.60" x2="365.80" y2="394.52" stroke="#000" stroke-width="1.0" stroke-linecap="butt"/>
<line x1="364.20" y1="390.60" x2="367.40" y2="390.60" stroke="#000" stroke-width="1.0" stroke-linecap="butt"/>
<line x1="364.20" y1="394.52" x2="367.40" y2="394.52" stroke="#000" stroke-width="1.0" stroke-linecap="butt"/>
<polyline points="277.20,405.30 291.80,399.42 306.40,399.42 321.50,403.34 336.30,399.91 351.20,338.66 365.80,392.56" fill="none" stroke="#000" stroke-width="1.75" stroke-linejoin="round"/>
<circle cx="277.20" cy="405.30" r="1.4" fill="#000"/>
<circle cx="291.80" cy="399.42" r="1.4" fill="#000"/>
<circle cx="306.40" cy="399.42" r="1.4" fill="#000"/>
<circle cx="321.50" cy="403.34" r="1.4" fill="#000"/>
<circle cx="336.30" cy="399.91" r="1.4" fill="#000"/>
<circle cx="351.20" cy="338.66" r="1.4" fill="#000"/>
<circle cx="365.80" cy="392.56" r="1.4" fill="#000"/>
<polyline points="277.20,405.30 291.80,399.91 306.40,398.93 321.50,403.34 336.30,399.91 351.20,339.64 365.80,393.05" fill="none" stroke="#555" stroke-width="1.4" stroke-linejoin="round" stroke-dasharray="4,1.6"/>
<polygon points="275.70,406.50 278.70,406.50 277.20,403.80" fill="#555"/>
<polygon points="290.30,401.11 293.30,401.11 291.80,398.41" fill="#555"/>
<polygon points="304.90,400.13 307.90,400.13 306.40,397.43" fill="#555"/>
<polygon points="320.00,404.54 323.00,404.54 321.50,401.84" fill="#555"/>
<polygon points="334.80,401.11 337.80,401.11 336.30,398.41" fill="#555"/>
<polygon points="349.70,340.84 352.70,340.84 351.20,338.14" fill="#555"/>
<polygon points="364.30,394.25 367.30,394.25 365.80,391.55" fill="#555"/>
<line x1="400.50" y1="325.50" x2="400.50" y2="406.10" stroke="#000" stroke-width="1.35" stroke-linecap="butt"/>
<line x1="399.90" y1="405.50" x2="518.00" y2="405.50" stroke="#000" stroke-width="1.35" stroke-linecap="butt"/>
<line x1="398.00" y1="405.20" x2="400.40" y2="405.20" stroke="#000" stroke-width="1.0" stroke-linecap="butt"/>
<text x="397.90" y="407.00" font-size="5" text-anchor="end" font-weight="bold" fill="#000" stroke="#000" stroke-width="0.1">0</text>
<line x1="398.00" y1="385.48" x2="400.40" y2="385.48" stroke="#000" stroke-width="1.0" stroke-linecap="butt"/>
<text x="397.90" y="387.28" font-size="5" text-anchor="end" font-weight="bold" fill="#000" stroke="#000" stroke-width="0.1">10</text>
<line x1="398.00" y1="365.75" x2="400.40" y2="365.75" stroke="#000" stroke-width="1.0" stroke-linecap="butt"/>
<text x="397.90" y="367.55" font-size="5" text-anchor="end" font-weight="bold" fill="#000" stroke="#000" stroke-width="0.1">20</text>
<line x1="398.00" y1="346.02" x2="400.40" y2="346.02" stroke="#000" stroke-width="1.0" stroke-linecap="butt"/>
<text x="397.90" y="347.82" font-size="5" text-anchor="end" font-weight="bold" fill="#000" stroke="#000" stroke-width="0.1">30</text>
<line x1="398.00" y1="326.30" x2="400.40" y2="326.30" stroke="#000" stroke-width="1.0" stroke-linecap="butt"/>
<text x="397.90" y="328.10" font-size="5" text-anchor="end" font-weight="bold" fill="#000" stroke="#000" stroke-width="0.1">40</text>
<line x1="414.80" y1="405.20" x2="414.80" y2="407.40" stroke="#000" stroke-width="0.9" stroke-linecap="butt"/>
<line x1="429.57" y1="405.20" x2="429.57" y2="407.40" stroke="#000" stroke-width="0.9" stroke-linecap="butt"/>
<line x1="444.33" y1="405.20" x2="444.33" y2="407.40" stroke="#000" stroke-width="0.9" stroke-linecap="butt"/>
<line x1="459.10" y1="405.20" x2="459.10" y2="407.40" stroke="#000" stroke-width="0.9" stroke-linecap="butt"/>
<line x1="473.87" y1="405.20" x2="473.87" y2="407.40" stroke="#000" stroke-width="0.9" stroke-linecap="butt"/>
<line x1="488.63" y1="405.20" x2="488.63" y2="407.40" stroke="#000" stroke-width="0.9" stroke-linecap="butt"/>
<line x1="503.40" y1="405.20" x2="503.40" y2="407.40" stroke="#000" stroke-width="0.9" stroke-linecap="butt"/>
<line x1="518.17" y1="405.20" x2="518.17" y2="407.40" stroke="#000" stroke-width="0.9" stroke-linecap="butt"/>
<text x="415.70" y="409.80" font-size="5.1" text-anchor="end" transform="rotate(-90 415.70 409.80)" fill="#000" stroke="#000" stroke-width="0.22">Free</text>
<text x="430.30" y="409.80" font-size="5.1" text-anchor="end" transform="rotate(-90 430.30 409.80)" fill="#000" stroke="#000" stroke-width="0.22">40S/60S</text>
<text x="445.60" y="409.80" font-size="5.1" text-anchor="end" transform="rotate(-90 445.60 409.80)" fill="#000" stroke="#000" stroke-width="0.22">80S</text>
<polygon points="455.40,411.70 507.70,410.10 507.70,414.50 455.40,412.90" fill="#000"/>
<text x="455.80" y="422.50" font-size="5.2" text-anchor="start" fill="#000" stroke="#000" stroke-width="0.22">Light</text>
<text x="455.80" y="429.10" font-size="5.2" text-anchor="start" fill="#000" stroke="#000" stroke-width="0.22">Polysomes</text>
<text x="486.20" y="422.50" font-size="5.2" text-anchor="start" fill="#000" stroke="#000" stroke-width="0.22">Heavy</text>
<text x="486.20" y="429.10" font-size="5.2" text-anchor="start" fill="#000" stroke="#000" stroke-width="0.22">Polysomes</text>
<text x="381.20" y="364.70" font-size="5.5" text-anchor="middle" transform="rotate(-90 381.20 364.70)" fill="#000" stroke="#000" stroke-width="0.22">% ATF4 mRNA</text>
<text x="387.80" y="364.70" font-size="5.5" text-anchor="middle" transform="rotate(-90 387.80 364.70)" fill="#000" stroke="#000" stroke-width="0.22">24 hours</text>
<line x1="429.40" y1="341.09" x2="429.40" y2="362.79" stroke="#000" stroke-width="1.0" stroke-linecap="butt"/>
<line x1="427.80" y1="341.09" x2="431.00" y2="341.09" stroke="#000" stroke-width="1.0" stroke-linecap="butt"/>
<line x1="427.80" y1="362.79" x2="431.00" y2="362.79" stroke="#000" stroke-width="1.0" stroke-linecap="butt"/>
<line x1="444.70" y1="346.02" x2="444.70" y2="355.89" stroke="#000" stroke-width="1.0" stroke-linecap="butt"/>
<line x1="443.10" y1="346.02" x2="446.30" y2="346.02" stroke="#000" stroke-width="1.0" stroke-linecap="butt"/>
<line x1="443.10" y1="355.89" x2="446.30" y2="355.89" stroke="#000" stroke-width="1.0" stroke-linecap="butt"/>
<line x1="459.10" y1="362.79" x2="459.10" y2="368.71" stroke="#000" stroke-width="1.0" stroke-linecap="butt"/>
<line x1="457.50" y1="362.79" x2="460.70" y2="362.79" stroke="#000" stroke-width="1.0" stroke-linecap="butt"/>
<line x1="457.50" y1="368.71" x2="460.70" y2="368.71" stroke="#000" stroke-width="1.0" stroke-linecap="butt"/>
<line x1="474.30" y1="371.67" x2="474.30" y2="375.61" stroke="#000" stroke-width="1.0" stroke-linecap="butt"/>
<line x1="472.70" y1="371.67" x2="475.90" y2="371.67" stroke="#000" stroke-width="1.0" stroke-linecap="butt"/>
<line x1="472.70" y1="375.61" x2="475.90" y2="375.61" stroke="#000" stroke-width="1.0" stroke-linecap="butt"/>
<line x1="489.00" y1="394.35" x2="489.00" y2="396.32" stroke="#000" stroke-width="1.0" stroke-linecap="butt"/>
<line x1="487.40" y1="394.35" x2="490.60" y2="394.35" stroke="#000" stroke-width="1.0" stroke-linecap="butt"/>
<line x1="487.40" y1="396.32" x2="490.60" y2="396.32" stroke="#000" stroke-width="1.0" stroke-linecap="butt"/>
<polyline points="414.80,401.25 429.40,351.94 444.70,350.96 459.10,365.75 474.30,373.64 489.00,395.34 503.40,402.24" fill="none" stroke="#000" stroke-width="1.75" stroke-linejoin="round"/>
<circle cx="414.80" cy="401.25" r="1.4" fill="#000"/>
<circle cx="429.40" cy="351.94" r="1.4" fill="#000"/>
<circle cx="444.70" cy="350.96" r="1.4" fill="#000"/>
<circle cx="459.10" cy="365.75" r="1.4" fill="#000"/>
<circle cx="474.30" cy="373.64" r="1.4" fill="#000"/>
<circle cx="489.00" cy="395.34" r="1.4" fill="#000"/>
<circle cx="503.40" cy="402.24" r="1.4" fill="#000"/>
<line x1="429.40" y1="359.83" x2="429.40" y2="377.58" stroke="#444" stroke-width="1.0" stroke-linecap="butt"/>
<line x1="427.80" y1="359.83" x2="431.00" y2="359.83" stroke="#444" stroke-width="1.0" stroke-linecap="butt"/>
<line x1="427.80" y1="377.58" x2="431.00" y2="377.58" stroke="#444" stroke-width="1.0" stroke-linecap="butt"/>
<line x1="444.70" y1="350.96" x2="444.70" y2="356.87" stroke="#444" stroke-width="1.0" stroke-linecap="butt"/>
<line x1="443.10" y1="350.96" x2="446.30" y2="350.96" stroke="#444" stroke-width="1.0" stroke-linecap="butt"/>
<line x1="443.10" y1="356.87" x2="446.30" y2="356.87" stroke="#444" stroke-width="1.0" stroke-linecap="butt"/>
<line x1="459.10" y1="347.01" x2="459.10" y2="352.93" stroke="#444" stroke-width="1.0" stroke-linecap="butt"/>
<line x1="457.50" y1="347.01" x2="460.70" y2="347.01" stroke="#444" stroke-width="1.0" stroke-linecap="butt"/>
<line x1="457.50" y1="352.93" x2="460.70" y2="352.93" stroke="#444" stroke-width="1.0" stroke-linecap="butt"/>
<line x1="474.30" y1="370.68" x2="474.30" y2="372.65" stroke="#444" stroke-width="1.0" stroke-linecap="butt"/>
<line x1="472.70" y1="370.68" x2="475.90" y2="370.68" stroke="#444" stroke-width="1.0" stroke-linecap="butt"/>
<line x1="472.70" y1="372.65" x2="475.90" y2="372.65" stroke="#444" stroke-width="1.0" stroke-linecap="butt"/>
<line x1="489.00" y1="392.38" x2="489.00" y2="394.35" stroke="#444" stroke-width="1.0" stroke-linecap="butt"/>
<line x1="487.40" y1="392.38" x2="490.60" y2="392.38" stroke="#444" stroke-width="1.0" stroke-linecap="butt"/>
<line x1="487.40" y1="394.35" x2="490.60" y2="394.35" stroke="#444" stroke-width="1.0" stroke-linecap="butt"/>
<polyline points="414.80,401.25 429.40,368.71 444.70,353.92 459.10,349.97 474.30,371.67 489.00,393.37 503.40,402.24" fill="none" stroke="#555" stroke-width="1.4" stroke-linejoin="round" stroke-dasharray="4,1.6"/>
<polygon points="413.30,402.45 416.30,402.45 414.80,399.75" fill="#555"/>
<polygon points="427.90,369.91 430.90,369.91 429.40,367.21" fill="#555"/>
<polygon points="443.20,355.12 446.20,355.12 444.70,352.42" fill="#555"/>
<polygon points="457.60,351.17 460.60,351.17 459.10,348.47" fill="#555"/>
<polygon points="472.80,372.87 475.80,372.87 474.30,370.17" fill="#555"/>
<polygon points="487.50,394.56 490.50,394.56 489.00,391.87" fill="#555"/>
<polygon points="501.90,403.44 504.90,403.44 503.40,400.74" fill="#555"/>
<text transform="translate(238.60 543.40) scale(1.18 1)" font-size="10.4" font-weight="bold" fill="#000" stroke="#000" stroke-width="0.3">H</text>
<line x1="259.50" y1="545.30" x2="259.50" y2="625.10" stroke="#000" stroke-width="1.35" stroke-linecap="butt"/>
<line x1="258.90" y1="624.50" x2="377.00" y2="624.50" stroke="#000" stroke-width="1.35" stroke-linecap="butt"/>
<line x1="256.70" y1="624.60" x2="259.10" y2="624.60" stroke="#000" stroke-width="1.0" stroke-linecap="butt"/>
<text x="256.60" y="626.40" font-size="5" text-anchor="end" font-weight="bold" fill="#000" stroke="#000" stroke-width="0.1">0</text>
<line x1="256.70" y1="598.43" x2="259.10" y2="598.43" stroke="#000" stroke-width="1.0" stroke-linecap="butt"/>
<text x="256.60" y="600.23" font-size="5" text-anchor="end" font-weight="bold" fill="#000" stroke="#000" stroke-width="0.1">20</text>
<line x1="256.70" y1="572.27" x2="259.10" y2="572.27" stroke="#000" stroke-width="1.0" stroke-linecap="butt"/>
<text x="256.60" y="574.07" font-size="5" text-anchor="end" font-weight="bold" fill="#000" stroke="#000" stroke-width="0.1">40</text>
<line x1="256.70" y1="546.10" x2="259.10" y2="546.10" stroke="#000" stroke-width="1.0" stroke-linecap="butt"/>
<text x="256.60" y="547.90" font-size="5" text-anchor="end" font-weight="bold" fill="#000" stroke="#000" stroke-width="0.1">60</text>
<line x1="273.50" y1="624.60" x2="273.50" y2="626.80" stroke="#000" stroke-width="0.9" stroke-linecap="butt"/>
<line x1="288.40" y1="624.60" x2="288.40" y2="626.80" stroke="#000" stroke-width="0.9" stroke-linecap="butt"/>
<line x1="303.30" y1="624.60" x2="303.30" y2="626.80" stroke="#000" stroke-width="0.9" stroke-linecap="butt"/>
<line x1="318.20" y1="624.60" x2="318.20" y2="626.80" stroke="#000" stroke-width="0.9" stroke-linecap="butt"/>
<line x1="333.10" y1="624.60" x2="333.10" y2="626.80" stroke="#000" stroke-width="0.9" stroke-linecap="butt"/>
<line x1="348.00" y1="624.60" x2="348.00" y2="626.80" stroke="#000" stroke-width="0.9" stroke-linecap="butt"/>
<line x1="362.90" y1="624.60" x2="362.90" y2="626.80" stroke="#000" stroke-width="0.9" stroke-linecap="butt"/>
<text x="274.40" y="629.20" font-size="5.1" text-anchor="end" transform="rotate(-90 274.40 629.20)" fill="#000" stroke="#000" stroke-width="0.22">Free</text>
<text x="289.50" y="629.20" font-size="5.1" text-anchor="end" transform="rotate(-90 289.50 629.20)" fill="#000" stroke="#000" stroke-width="0.22">40S/60S</text>
<text x="304.40" y="629.20" font-size="5.1" text-anchor="end" transform="rotate(-90 304.40 629.20)" fill="#000" stroke="#000" stroke-width="0.22">80S</text>
<polygon points="314.60,629.70 366.90,628.10 366.90,632.50 314.60,630.90" fill="#000"/>
<text x="314.50" y="641.00" font-size="5.2" text-anchor="start" fill="#000" stroke="#000" stroke-width="0.22">Light</text>
<text x="314.50" y="647.60" font-size="5.2" text-anchor="start" fill="#000" stroke="#000" stroke-width="0.22">Polysomes</text>
<text x="345.40" y="641.00" font-size="5.2" text-anchor="start" fill="#000" stroke="#000" stroke-width="0.22">Heavy</text>
<text x="345.40" y="647.60" font-size="5.2" text-anchor="start" fill="#000" stroke="#000" stroke-width="0.22">Polysomes</text>
<text x="240.00" y="585.70" font-size="5.5" text-anchor="middle" transform="rotate(-90 240.00 585.70)" fill="#000" stroke="#000" stroke-width="0.22">% γ-globin mRNA</text>
<text x="246.90" y="585.70" font-size="5.5" text-anchor="middle" transform="rotate(-90 246.90 585.70)" fill="#000" stroke="#000" stroke-width="0.22">24 hours</text>
<line x1="303.50" y1="586.66" x2="303.50" y2="602.36" stroke="#000" stroke-width="1.0" stroke-linecap="butt"/>
<line x1="301.90" y1="586.66" x2="305.10" y2="586.66" stroke="#000" stroke-width="1.0" stroke-linecap="butt"/>
<line x1="301.90" y1="602.36" x2="305.10" y2="602.36" stroke="#000" stroke-width="1.0" stroke-linecap="butt"/>
<line x1="318.20" y1="553.95" x2="318.20" y2="577.50" stroke="#000" stroke-width="1.0" stroke-linecap="butt"/>
<line x1="316.60" y1="553.95" x2="319.80" y2="553.95" stroke="#000" stroke-width="1.0" stroke-linecap="butt"/>
<line x1="316.60" y1="577.50" x2="319.80" y2="577.50" stroke="#000" stroke-width="1.0" stroke-linecap="butt"/>
<line x1="333.20" y1="591.89" x2="333.20" y2="599.74" stroke="#000" stroke-width="1.0" stroke-linecap="butt"/>
<line x1="331.60" y1="591.89" x2="334.80" y2="591.89" stroke="#000" stroke-width="1.0" stroke-linecap="butt"/>
<line x1="331.60" y1="599.74" x2="334.80" y2="599.74" stroke="#000" stroke-width="1.0" stroke-linecap="butt"/>
<polyline points="273.50,623.29 288.60,620.02 303.50,594.51 318.20,565.73 333.20,595.82 348.50,620.68 362.90,623.95" fill="none" stroke="#000" stroke-width="1.75" stroke-linejoin="round"/>
<circle cx="273.50" cy="623.29" r="1.4" fill="#000"/>
<circle cx="288.60" cy="620.02" r="1.4" fill="#000"/>
<circle cx="303.50" cy="594.51" r="1.4" fill="#000"/>
<circle cx="318.20" cy="565.73" r="1.4" fill="#000"/>
<circle cx="333.20" cy="595.82" r="1.4" fill="#000"/>
<circle cx="348.50" cy="620.68" r="1.4" fill="#000"/>
<circle cx="362.90" cy="623.95" r="1.4" fill="#000"/>
<line x1="303.50" y1="590.58" x2="303.50" y2="601.05" stroke="#444" stroke-width="1.0" stroke-linecap="butt"/>
<line x1="301.90" y1="590.58" x2="305.10" y2="590.58" stroke="#444" stroke-width="1.0" stroke-linecap="butt"/>
<line x1="301.90" y1="601.05" x2="305.10" y2="601.05" stroke="#444" stroke-width="1.0" stroke-linecap="butt"/>
<line x1="318.20" y1="560.49" x2="318.20" y2="573.58" stroke="#444" stroke-width="1.0" stroke-linecap="butt"/>
<line x1="316.60" y1="560.49" x2="319.80" y2="560.49" stroke="#444" stroke-width="1.0" stroke-linecap="butt"/>
<line x1="316.60" y1="573.58" x2="319.80" y2="573.58" stroke="#444" stroke-width="1.0" stroke-linecap="butt"/>
<line x1="333.20" y1="593.85" x2="333.20" y2="599.09" stroke="#444" stroke-width="1.0" stroke-linecap="butt"/>
<line x1="331.60" y1="593.85" x2="334.80" y2="593.85" stroke="#444" stroke-width="1.0" stroke-linecap="butt"/>
<line x1="331.60" y1="599.09" x2="334.80" y2="599.09" stroke="#444" stroke-width="1.0" stroke-linecap="butt"/>
<polyline points="273.50,623.29 288.60,620.02 303.50,595.82 318.20,567.03 333.20,596.47 348.50,620.68 362.90,623.95" fill="none" stroke="#555" stroke-width="1.4" stroke-linejoin="round" stroke-dasharray="4,1.6"/>
<polygon points="272.00,624.49 275.00,624.49 273.50,621.79" fill="#555"/>
<polygon points="287.10,621.22 290.10,621.22 288.60,618.52" fill="#555"/>
<polygon points="302.00,597.02 305.00,597.02 303.50,594.32" fill="#555"/>
<polygon points="316.70,568.23 319.70,568.23 318.20,565.53" fill="#555"/>
<polygon points="331.70,597.67 334.70,597.67 333.20,594.97" fill="#555"/>
<polygon points="347.00,621.88 350.00,621.88 348.50,619.18" fill="#555"/>
<polygon points="361.40,625.15 364.40,625.15 362.90,622.45" fill="#555"/>
<line x1="396.50" y1="544.40" x2="396.50" y2="624.10" stroke="#000" stroke-width="1.35" stroke-linecap="butt"/>
<line x1="395.90" y1="623.50" x2="514.00" y2="623.50" stroke="#000" stroke-width="1.35" stroke-linecap="butt"/>
<line x1="394.40" y1="623.60" x2="396.80" y2="623.60" stroke="#000" stroke-width="1.0" stroke-linecap="butt"/>
<text x="394.30" y="625.40" font-size="5" text-anchor="end" font-weight="bold" fill="#000" stroke="#000" stroke-width="0.1">0</text>
<line x1="394.40" y1="597.47" x2="396.80" y2="597.47" stroke="#000" stroke-width="1.0" stroke-linecap="butt"/>
<text x="394.30" y="599.27" font-size="5" text-anchor="end" font-weight="bold" fill="#000" stroke="#000" stroke-width="0.1">20</text>
<line x1="394.40" y1="571.33" x2="396.80" y2="571.33" stroke="#000" stroke-width="1.0" stroke-linecap="butt"/>
<text x="394.30" y="573.13" font-size="5" text-anchor="end" font-weight="bold" fill="#000" stroke="#000" stroke-width="0.1">40</text>
<line x1="394.40" y1="545.20" x2="396.80" y2="545.20" stroke="#000" stroke-width="1.0" stroke-linecap="butt"/>
<text x="394.30" y="547.00" font-size="5" text-anchor="end" font-weight="bold" fill="#000" stroke="#000" stroke-width="0.1">60</text>
<line x1="411.40" y1="623.60" x2="411.40" y2="625.80" stroke="#000" stroke-width="0.9" stroke-linecap="butt"/>
<line x1="426.13" y1="623.60" x2="426.13" y2="625.80" stroke="#000" stroke-width="0.9" stroke-linecap="butt"/>
<line x1="440.87" y1="623.60" x2="440.87" y2="625.80" stroke="#000" stroke-width="0.9" stroke-linecap="butt"/>
<line x1="455.60" y1="623.60" x2="455.60" y2="625.80" stroke="#000" stroke-width="0.9" stroke-linecap="butt"/>
<line x1="470.33" y1="623.60" x2="470.33" y2="625.80" stroke="#000" stroke-width="0.9" stroke-linecap="butt"/>
<line x1="485.07" y1="623.60" x2="485.07" y2="625.80" stroke="#000" stroke-width="0.9" stroke-linecap="butt"/>
<line x1="499.80" y1="623.60" x2="499.80" y2="625.80" stroke="#000" stroke-width="0.9" stroke-linecap="butt"/>
<text x="412.30" y="628.20" font-size="5.1" text-anchor="end" transform="rotate(-90 412.30 628.20)" fill="#000" stroke="#000" stroke-width="0.22">Free</text>
<text x="426.70" y="628.20" font-size="5.1" text-anchor="end" transform="rotate(-90 426.70 628.20)" fill="#000" stroke="#000" stroke-width="0.22">40S/60S</text>
<text x="441.40" y="628.20" font-size="5.1" text-anchor="end" transform="rotate(-90 441.40 628.20)" fill="#000" stroke="#000" stroke-width="0.22">80S</text>
<polygon points="452.30,629.50 506.20,627.90 506.20,632.30 452.30,630.70" fill="#000"/>
<text x="452.20" y="640.80" font-size="5.2" text-anchor="start" fill="#000" stroke="#000" stroke-width="0.22">Light</text>
<text x="452.20" y="647.40" font-size="5.2" text-anchor="start" fill="#000" stroke="#000" stroke-width="0.22">Polysomes</text>
<text x="484.00" y="640.80" font-size="5.2" text-anchor="start" fill="#000" stroke="#000" stroke-width="0.22">Heavy</text>
<text x="484.00" y="647.40" font-size="5.2" text-anchor="start" fill="#000" stroke="#000" stroke-width="0.22">Polysomes</text>
<text x="377.30" y="583.50" font-size="5.5" text-anchor="middle" transform="rotate(-90 377.30 583.50)" fill="#000" stroke="#000" stroke-width="0.22">% β-globin mRNA</text>
<text x="384.30" y="583.50" font-size="5.5" text-anchor="middle" transform="rotate(-90 384.30 583.50)" fill="#000" stroke="#000" stroke-width="0.22">24 hours</text>
<line x1="440.50" y1="577.87" x2="440.50" y2="585.71" stroke="#000" stroke-width="1.0" stroke-linecap="butt"/>
<line x1="438.90" y1="577.87" x2="442.10" y2="577.87" stroke="#000" stroke-width="1.0" stroke-linecap="butt"/>
<line x1="438.90" y1="585.71" x2="442.10" y2="585.71" stroke="#000" stroke-width="1.0" stroke-linecap="butt"/>
<line x1="455.50" y1="553.69" x2="455.50" y2="578.52" stroke="#000" stroke-width="1.0" stroke-linecap="butt"/>
<line x1="453.90" y1="553.69" x2="457.10" y2="553.69" stroke="#000" stroke-width="1.0" stroke-linecap="butt"/>
<line x1="453.90" y1="578.52" x2="457.10" y2="578.52" stroke="#000" stroke-width="1.0" stroke-linecap="butt"/>
<line x1="470.20" y1="597.47" x2="470.20" y2="607.92" stroke="#000" stroke-width="1.0" stroke-linecap="butt"/>
<line x1="468.60" y1="597.47" x2="471.80" y2="597.47" stroke="#000" stroke-width="1.0" stroke-linecap="butt"/>
<line x1="468.60" y1="607.92" x2="471.80" y2="607.92" stroke="#000" stroke-width="1.0" stroke-linecap="butt"/>
<polyline points="411.40,620.99 425.80,616.41 440.50,581.79 455.50,566.11 470.20,602.69 484.80,620.99 499.80,622.95" fill="none" stroke="#000" stroke-width="1.75" stroke-linejoin="round"/>
<circle cx="411.40" cy="620.99" r="1.4" fill="#000"/>
<circle cx="425.80" cy="616.41" r="1.4" fill="#000"/>
<circle cx="440.50" cy="581.79" r="1.4" fill="#000"/>
<circle cx="455.50" cy="566.11" r="1.4" fill="#000"/>
<circle cx="470.20" cy="602.69" r="1.4" fill="#000"/>
<circle cx="484.80" cy="620.99" r="1.4" fill="#000"/>
<circle cx="499.80" cy="622.95" r="1.4" fill="#000"/>
<line x1="440.50" y1="577.87" x2="440.50" y2="598.77" stroke="#444" stroke-width="1.0" stroke-linecap="butt"/>
<line x1="438.90" y1="577.87" x2="442.10" y2="577.87" stroke="#444" stroke-width="1.0" stroke-linecap="butt"/>
<line x1="438.90" y1="598.77" x2="442.10" y2="598.77" stroke="#444" stroke-width="1.0" stroke-linecap="butt"/>
<line x1="455.50" y1="560.88" x2="455.50" y2="573.95" stroke="#444" stroke-width="1.0" stroke-linecap="butt"/>
<line x1="453.90" y1="560.88" x2="457.10" y2="560.88" stroke="#444" stroke-width="1.0" stroke-linecap="butt"/>
<line x1="453.90" y1="573.95" x2="457.10" y2="573.95" stroke="#444" stroke-width="1.0" stroke-linecap="butt"/>
<line x1="470.20" y1="599.43" x2="470.20" y2="604.65" stroke="#444" stroke-width="1.0" stroke-linecap="butt"/>
<line x1="468.60" y1="599.43" x2="471.80" y2="599.43" stroke="#444" stroke-width="1.0" stroke-linecap="butt"/>
<line x1="468.60" y1="604.65" x2="471.80" y2="604.65" stroke="#444" stroke-width="1.0" stroke-linecap="butt"/>
<polyline points="411.40,620.99 425.80,616.41 440.50,588.32 455.50,567.41 470.20,602.04 484.80,620.99 499.80,622.95" fill="none" stroke="#555" stroke-width="1.4" stroke-linejoin="round" stroke-dasharray="4,1.6"/>
<polygon points="409.90,622.19 412.90,622.19 411.40,619.49" fill="#555"/>
<polygon points="424.30,617.61 427.30,617.61 425.80,614.91" fill="#555"/>
<polygon points="439.00,589.52 442.00,589.52 440.50,586.82" fill="#555"/>
<polygon points="454.00,568.61 457.00,568.61 455.50,565.91" fill="#555"/>
<polygon points="468.70,603.24 471.70,603.24 470.20,600.54" fill="#555"/>
<polygon points="483.30,622.19 486.30,622.19 484.80,619.49" fill="#555"/>
<polygon points="498.30,624.15 501.30,624.15 499.80,621.45" fill="#555"/>
<line x1="461.40" y1="556.40" x2="475.60" y2="556.40" stroke="#000" stroke-width="1.3" stroke-linecap="butt"/>
<circle cx="468.50" cy="556.40" r="1.4" fill="#000"/>
<line x1="461.40" y1="565.90" x2="475.60" y2="565.90" stroke="#444" stroke-width="1.3" stroke-dasharray="4.2,1.8" stroke-linecap="butt"/>
<polygon points="467.00,567.10 470.00,567.10 468.50,564.40" fill="#555"/>
<text x="477.60" y="558.34" font-size="5.4" text-anchor="start" fill="#000" stroke="#000" stroke-width="0.22">Untx + Puro</text>
<text x="477.60" y="567.84" font-size="5.4" text-anchor="start" fill="#000" stroke="#000" stroke-width="0.22">Sal 12 μM + Puro</text>
<text transform="translate(239.40 8.20) scale(1.18 1)" font-size="10.4" font-weight="bold" fill="#000" stroke="#000" stroke-width="0.3">B</text>
<text x="323.30" y="7.70" font-size="6.8" text-anchor="middle" font-weight="bold" fill="#000" stroke="#000" stroke-width="0.22">3 hr</text>
<text x="366.30" y="7.70" font-size="6.8" text-anchor="middle" font-weight="bold" fill="#000" stroke="#000" stroke-width="0.22">6 hr</text>
<text x="408.30" y="7.70" font-size="6.8" text-anchor="middle" font-weight="bold" fill="#000" stroke="#000" stroke-width="0.22">24 hr</text>
<line x1="310.60" y1="12.90" x2="335.60" y2="12.90" stroke="#000" stroke-width="1.6" stroke-linecap="butt"/>
<line x1="353.80" y1="12.90" x2="378.80" y2="12.90" stroke="#000" stroke-width="1.6" stroke-linecap="butt"/>
<line x1="396.30" y1="12.90" x2="420.80" y2="12.90" stroke="#000" stroke-width="1.6" stroke-linecap="butt"/>
<text x="316.00" y="23.90" font-size="10" text-anchor="middle" font-weight="bold" fill="#000" stroke="#000" stroke-width="0.3">+</text>
<text x="316.00" y="31.80" font-size="12.5" text-anchor="middle" font-weight="bold" fill="#000" stroke="#000" stroke-width="0.3">-</text>
<text x="330.00" y="22.50" font-size="12.5" text-anchor="middle" font-weight="bold" fill="#000" stroke="#000" stroke-width="0.3">-</text>
<text x="330.00" y="33.20" font-size="10" text-anchor="middle" font-weight="bold" fill="#000" stroke="#000" stroke-width="0.3">+</text>
<text x="360.20" y="23.90" font-size="10" text-anchor="middle" font-weight="bold" fill="#000" stroke="#000" stroke-width="0.3">+</text>
<text x="360.20" y="31.80" font-size="12.5" text-anchor="middle" font-weight="bold" fill="#000" stroke="#000" stroke-width="0.3">-</text>
<text x="373.00" y="22.50" font-size="12.5" text-anchor="middle" font-weight="bold" fill="#000" stroke="#000" stroke-width="0.3">-</text>
<text x="373.00" y="33.20" font-size="10" text-anchor="middle" font-weight="bold" fill="#000" stroke="#000" stroke-width="0.3">+</text>
<text x="402.00" y="23.90" font-size="10" text-anchor="middle" font-weight="bold" fill="#000" stroke="#000" stroke-width="0.3">+</text>
<text x="402.00" y="31.80" font-size="12.5" text-anchor="middle" font-weight="bold" fill="#000" stroke="#000" stroke-width="0.3">-</text>
<text x="414.60" y="22.50" font-size="12.5" text-anchor="middle" font-weight="bold" fill="#000" stroke="#000" stroke-width="0.3">-</text>
<text x="414.60" y="33.20" font-size="10" text-anchor="middle" font-weight="bold" fill="#000" stroke="#000" stroke-width="0.3">+</text>
<text x="431.00" y="21.60" font-size="6.4" text-anchor="start" fill="#000" stroke="#000" stroke-width="0.22">Untx</text>
<text x="431.00" y="32.00" font-size="6.4" text-anchor="start" fill="#000" stroke="#000" stroke-width="0.22">Sal 12 μM</text>
<rect x="304.8" y="37.8" width="79.7" height="13.20" fill="#d5d5d5"/>
<rect x="390" y="37.8" width="36.5" height="13.20" fill="#d5d5d5"/>
<rect x="304.8" y="55.6" width="79.7" height="13.60" fill="#cfcfcf"/>
<rect x="390" y="55.6" width="36.5" height="13.60" fill="#cfcfcf"/>
<rect x="304.8" y="73.2" width="79.7" height="13.60" fill="#d6d6d6"/>
<rect x="390" y="73.2" width="36.5" height="13.60" fill="#d6d6d6"/>
<rect x="310.60" y="43.10" width="10.8" height="3.80" rx="2.2" fill="#222" fill-opacity="0.22" filter="url(#blur)"/>
<rect x="325.30" y="43.10" width="10.8" height="3.80" rx="2.2" fill="#222" fill-opacity="0.75" filter="url(#blur)"/>
<rect x="354.50" y="43.10" width="10.8" height="3.80" rx="2.2" fill="#222" fill-opacity="0.32" filter="url(#blur)"/>
<rect x="369.20" y="43.10" width="10.8" height="3.80" rx="2.2" fill="#222" fill-opacity="0.85" filter="url(#blur)"/>
<rect x="396.60" y="43.10" width="10.8" height="3.80" rx="2.2" fill="#222" fill-opacity="0.25" filter="url(#blur)"/>
<rect x="410.20" y="43.10" width="10.8" height="3.80" rx="2.2" fill="#222" fill-opacity="0.35" filter="url(#blur)"/>
<rect x="310.60" y="60.40" width="10.8" height="4.80" rx="2.2" fill="#222" fill-opacity="0.70" filter="url(#blur)"/>
<rect x="325.30" y="60.40" width="10.8" height="4.80" rx="2.2" fill="#222" fill-opacity="0.62" filter="url(#blur)"/>
<rect x="354.50" y="60.40" width="10.8" height="4.80" rx="2.2" fill="#222" fill-opacity="0.90" filter="url(#blur)"/>
<rect x="369.20" y="60.40" width="10.8" height="4.80" rx="2.2" fill="#222" fill-opacity="0.70" filter="url(#blur)"/>
<rect x="396.60" y="60.40" width="10.8" height="4.80" rx="2.2" fill="#222" fill-opacity="0.72" filter="url(#blur)"/>
<rect x="410.20" y="60.40" width="10.8" height="4.80" rx="2.2" fill="#222" fill-opacity="0.66" filter="url(#blur)"/>
<rect x="310.60" y="78.70" width="10.8" height="3.00" rx="2.2" fill="#222" fill-opacity="0.55" filter="url(#blur)"/>
<rect x="325.30" y="78.70" width="10.8" height="3.00" rx="2.2" fill="#222" fill-opacity="0.60" filter="url(#blur)"/>
<rect x="354.50" y="78.70" width="10.8" height="3.00" rx="2.2" fill="#222" fill-opacity="0.60" filter="url(#blur)"/>
<rect x="369.20" y="78.70" width="10.8" height="3.00" rx="2.2" fill="#222" fill-opacity="0.50" filter="url(#blur)"/>
<rect x="396.60" y="78.70" width="10.8" height="3.00" rx="2.2" fill="#222" fill-opacity="0.50" filter="url(#blur)"/>
<rect x="410.20" y="78.70" width="10.8" height="3.00" rx="2.2" fill="#222" fill-opacity="0.52" filter="url(#blur)"/>
<text x="431.00" y="47.60" font-size="6.5" text-anchor="start" fill="#000" stroke="#000" stroke-width="0.22">p-eIF2α</text>
<text x="431.00" y="64.90" font-size="6.5" text-anchor="start" fill="#000" stroke="#000" stroke-width="0.22">eIF2α</text>
<text x="431.00" y="81.60" font-size="6.5" text-anchor="start" fill="#000" stroke="#000" stroke-width="0.22">β-Actin</text>
<text transform="translate(238.80 442.60) scale(1.18 1)" font-size="10.4" font-weight="bold" fill="#000" stroke="#000" stroke-width="0.3">F</text>
<rect x="276.40" y="497.83" width="14.80" height="19.27" fill="#000"/>
<line x1="283.80" y1="496.74" x2="283.80" y2="497.83" stroke="#000" stroke-width="1.2" stroke-linecap="butt"/>
<line x1="279.80" y1="496.74" x2="287.80" y2="496.74" stroke="#000" stroke-width="1.2" stroke-linecap="butt"/>
<line x1="279.80" y1="497.83" x2="287.80" y2="497.83" stroke="#000" stroke-width="1.2" stroke-linecap="butt"/>
<rect x="294.70" y="465.48" width="14.50" height="51.62" fill="#a4a4a4"/>
<line x1="301.95" y1="456.76" x2="301.95" y2="474.21" stroke="#000" stroke-width="1.2" stroke-linecap="butt"/>
<line x1="297.95" y1="456.76" x2="305.95" y2="456.76" stroke="#000" stroke-width="1.2" stroke-linecap="butt"/>
<line x1="297.95" y1="474.21" x2="305.95" y2="474.21" stroke="#000" stroke-width="1.2" stroke-linecap="butt"/>
<rect x="327.50" y="504.38" width="14.30" height="12.72" fill="#000"/>
<line x1="334.65" y1="502.92" x2="334.65" y2="504.38" stroke="#000" stroke-width="1.2" stroke-linecap="butt"/>
<line x1="330.65" y1="502.92" x2="338.65" y2="502.92" stroke="#000" stroke-width="1.2" stroke-linecap="butt"/>
<line x1="330.65" y1="504.38" x2="338.65" y2="504.38" stroke="#000" stroke-width="1.2" stroke-linecap="butt"/>
<rect x="345.00" y="495.29" width="14.30" height="21.81" fill="#a4a4a4"/>
<line x1="352.15" y1="493.11" x2="352.15" y2="497.47" stroke="#000" stroke-width="1.2" stroke-linecap="butt"/>
<line x1="348.15" y1="493.11" x2="356.15" y2="493.11" stroke="#000" stroke-width="1.2" stroke-linecap="butt"/>
<line x1="348.15" y1="497.47" x2="356.15" y2="497.47" stroke="#000" stroke-width="1.2" stroke-linecap="butt"/>
<line x1="268.00" y1="443.60" x2="268.00" y2="517.70" stroke="#000" stroke-width="1.3" stroke-linecap="butt"/>
<line x1="267.40" y1="517.10" x2="368.50" y2="517.10" stroke="#000" stroke-width="1.3" stroke-linecap="butt"/>
<line x1="265.80" y1="517.10" x2="268.00" y2="517.10" stroke="#000" stroke-width="1.0" stroke-linecap="butt"/>
<text x="265.40" y="518.90" font-size="5" text-anchor="end" font-weight="bold" fill="#000" stroke="#000" stroke-width="0.22">0.0</text>
<line x1="265.80" y1="498.93" x2="268.00" y2="498.93" stroke="#000" stroke-width="1.0" stroke-linecap="butt"/>
<text x="265.40" y="500.73" font-size="5" text-anchor="end" font-weight="bold" fill="#000" stroke="#000" stroke-width="0.22">0.5</text>
<line x1="265.80" y1="480.75" x2="268.00" y2="480.75" stroke="#000" stroke-width="1.0" stroke-linecap="butt"/>
<text x="265.40" y="482.55" font-size="5" text-anchor="end" font-weight="bold" fill="#000" stroke="#000" stroke-width="0.22">1.0</text>
<line x1="265.80" y1="462.57" x2="268.00" y2="462.57" stroke="#000" stroke-width="1.0" stroke-linecap="butt"/>
<text x="265.40" y="464.38" font-size="5" text-anchor="end" font-weight="bold" fill="#000" stroke="#000" stroke-width="0.22">1.5</text>
<line x1="265.80" y1="444.40" x2="268.00" y2="444.40" stroke="#000" stroke-width="1.0" stroke-linecap="butt"/>
<text x="265.40" y="446.20" font-size="5" text-anchor="end" font-weight="bold" fill="#000" stroke="#000" stroke-width="0.22">2.0</text>
<text x="248.90" y="482.00" font-size="5.4" text-anchor="middle" font-weight="bold" transform="rotate(-90 248.90 482.00)" fill="#000" stroke="#000" stroke-width="0.22">Heavy/Light</text>
<text x="253.90" y="482.00" font-size="5.2" text-anchor="middle" font-weight="bold" transform="rotate(-90 253.90 482.00)" fill="#000" stroke="#000" stroke-width="0.22">Polysome Ratio</text>
<rect x="328.00" y="445.20" width="7" height="5.2" fill="#000"/>
<rect x="328.00" y="454.60" width="7" height="5.2" fill="#a4a4a4"/>
<text x="338.90" y="449.80" font-size="6.2" text-anchor="start" fill="#000" stroke="#000" stroke-width="0.22">Untx</text>
<text x="338.90" y="459.20" font-size="6.2" text-anchor="start" fill="#000" stroke="#000" stroke-width="0.22">Sal 12 μM</text>
<text x="292.50" y="525.30" font-size="5.6" text-anchor="middle" font-weight="bold" fill="#000" stroke="#000" stroke-width="0.22">γ-globin</text>
<text x="343.20" y="525.30" font-size="5.6" text-anchor="middle" font-weight="bold" fill="#000" stroke="#000" stroke-width="0.22">β-globin</text>
<polyline points="281.20,452.20 281.20,449.20 302.00,449.20 302.00,452.20" fill="none" stroke="#000" stroke-width="1.1"/>
<text x="291.60" y="447.00" font-size="7.5" text-anchor="middle" font-weight="bold" fill="#000" stroke="#000" stroke-width="0.4">*</text>
<polyline points="332.40,486.70 332.40,483.70 353.10,483.70 353.10,486.70" fill="none" stroke="#000" stroke-width="1.1"/>
<text x="342.75" y="481.50" font-size="7.5" text-anchor="middle" font-weight="bold" fill="#000" stroke="#000" stroke-width="0.4">*</text>
<text transform="translate(384.90 442.00) scale(1.18 1)" font-size="10.4" font-weight="bold" fill="#000" stroke="#000" stroke-width="0.3">I</text>
<rect x="420.30" y="493.53" width="14.40" height="24.27" fill="#000"/>
<rect x="438.30" y="491.59" width="13.90" height="26.21" fill="#a4a4a4"/>
<line x1="445.25" y1="489.65" x2="445.25" y2="493.53" stroke="#000" stroke-width="1.2" stroke-linecap="butt"/>
<line x1="441.25" y1="489.65" x2="449.25" y2="489.65" stroke="#000" stroke-width="1.2" stroke-linecap="butt"/>
<line x1="441.25" y1="493.53" x2="449.25" y2="493.53" stroke="#000" stroke-width="1.2" stroke-linecap="butt"/>
<rect x="470.70" y="501.30" width="14.70" height="16.50" fill="#000"/>
<line x1="478.05" y1="498.87" x2="478.05" y2="501.30" stroke="#000" stroke-width="1.2" stroke-linecap="butt"/>
<line x1="474.05" y1="498.87" x2="482.05" y2="498.87" stroke="#000" stroke-width="1.2" stroke-linecap="butt"/>
<line x1="474.05" y1="501.30" x2="482.05" y2="501.30" stroke="#000" stroke-width="1.2" stroke-linecap="butt"/>
<rect x="489.00" y="501.30" width="13.80" height="16.50" fill="#a4a4a4"/>
<line x1="495.90" y1="498.87" x2="495.90" y2="503.73" stroke="#000" stroke-width="1.2" stroke-linecap="butt"/>
<line x1="491.90" y1="498.87" x2="499.90" y2="498.87" stroke="#000" stroke-width="1.2" stroke-linecap="butt"/>
<line x1="491.90" y1="503.73" x2="499.90" y2="503.73" stroke="#000" stroke-width="1.2" stroke-linecap="butt"/>
<line x1="411.50" y1="444.20" x2="411.50" y2="518.40" stroke="#000" stroke-width="1.3" stroke-linecap="butt"/>
<line x1="410.90" y1="517.80" x2="513.00" y2="517.80" stroke="#000" stroke-width="1.3" stroke-linecap="butt"/>
<line x1="409.30" y1="517.80" x2="411.50" y2="517.80" stroke="#000" stroke-width="1.0" stroke-linecap="butt"/>
<text x="408.90" y="519.60" font-size="5" text-anchor="end" font-weight="bold" fill="#000" stroke="#000" stroke-width="0.22">0.00</text>
<line x1="409.30" y1="493.53" x2="411.50" y2="493.53" stroke="#000" stroke-width="1.0" stroke-linecap="butt"/>
<text x="408.90" y="495.33" font-size="5" text-anchor="end" font-weight="bold" fill="#000" stroke="#000" stroke-width="0.22">0.05</text>
<line x1="409.30" y1="469.27" x2="411.50" y2="469.27" stroke="#000" stroke-width="1.0" stroke-linecap="butt"/>
<text x="408.90" y="471.07" font-size="5" text-anchor="end" font-weight="bold" fill="#000" stroke="#000" stroke-width="0.22">0.10</text>
<line x1="409.30" y1="445.00" x2="411.50" y2="445.00" stroke="#000" stroke-width="1.0" stroke-linecap="butt"/>
<text x="408.90" y="446.80" font-size="5" text-anchor="end" font-weight="bold" fill="#000" stroke="#000" stroke-width="0.22">0.15</text>
<text x="389.90" y="482.50" font-size="5.4" text-anchor="middle" font-weight="bold" transform="rotate(-90 389.90 482.50)" fill="#000" stroke="#000" stroke-width="0.22">Heavy/Light</text>
<text x="395.70" y="482.50" font-size="5.2" text-anchor="middle" font-weight="bold" transform="rotate(-90 395.70 482.50)" fill="#000" stroke="#000" stroke-width="0.22">Polysome Ratio</text>
<rect x="471.50" y="447.20" width="7" height="5.2" fill="#000"/>
<rect x="471.50" y="455.50" width="7" height="5.2" fill="#a4a4a4"/>
<text x="482.60" y="451.80" font-size="6.2" text-anchor="start" fill="#000" stroke="#000" stroke-width="0.22">Untx</text>
<text x="482.60" y="460.10" font-size="6.2" text-anchor="start" fill="#000" stroke="#000" stroke-width="0.22">Sal 12 μM</text>
<text x="431.40" y="525.50" font-size="5.6" text-anchor="middle" font-weight="bold" fill="#000" stroke="#000" stroke-width="0.22">γ-globin</text>
<text x="484.00" y="525.50" font-size="5.6" text-anchor="middle" font-weight="bold" fill="#000" stroke="#000" stroke-width="0.22">β-globin</text>
</svg>
</body></html>
